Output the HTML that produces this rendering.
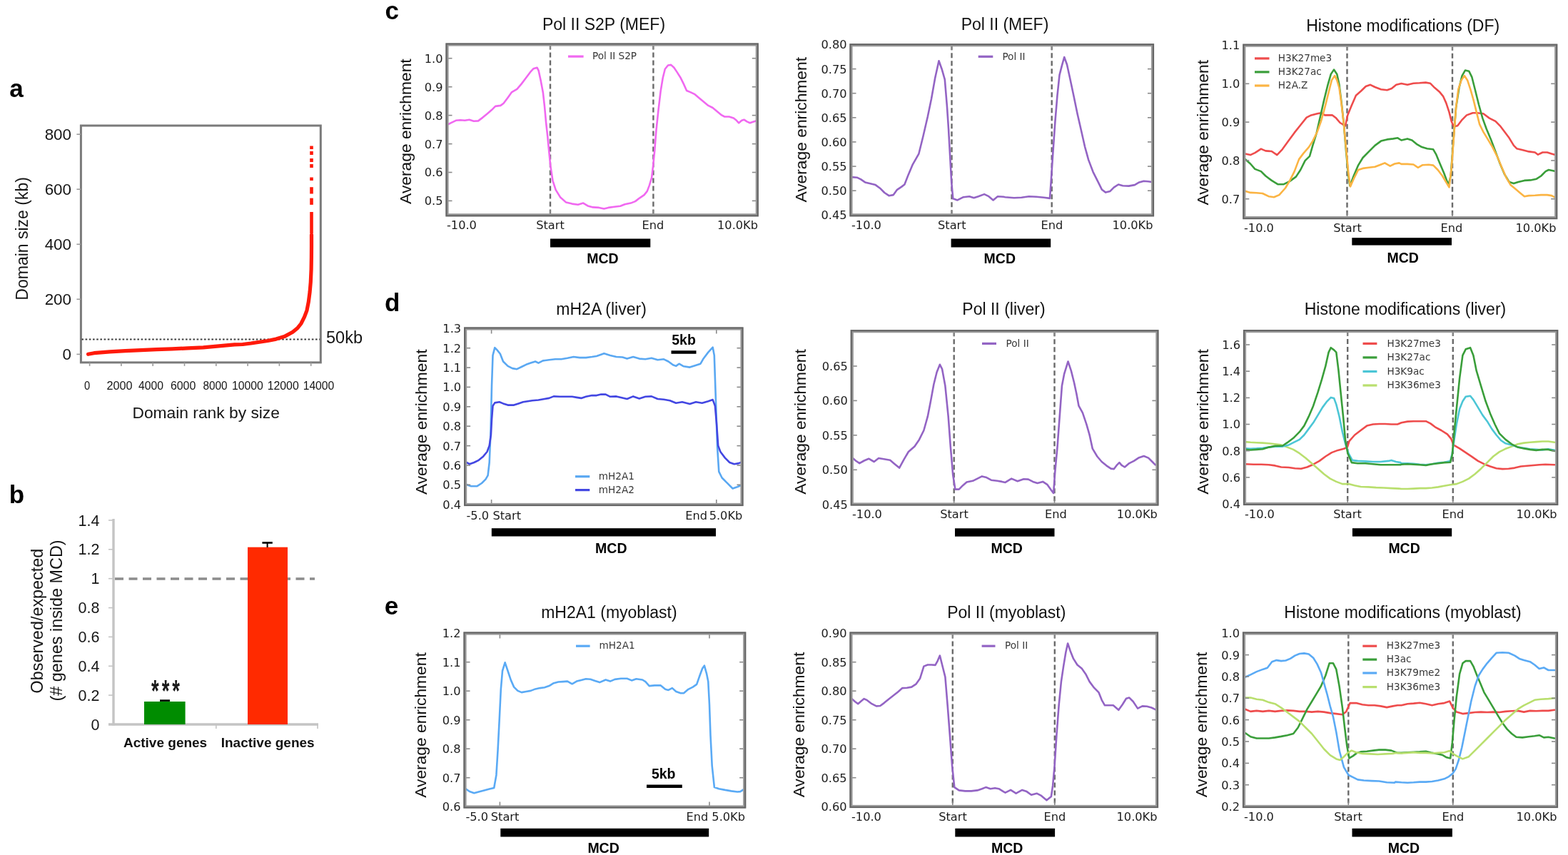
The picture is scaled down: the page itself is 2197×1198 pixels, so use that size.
<!DOCTYPE html>
<html><head><meta charset="utf-8"><title>Figure</title>
<style>html,body{margin:0;padding:0;background:#fff;overflow:hidden}svg{display:block}</style>
</head><body>
<svg width="2197" height="1198" viewBox="0 0 2197 1198">
<rect width="2197" height="1198" fill="#fff"/>
<rect x="113.4" y="176" width="335.9" height="331.9" fill="none" stroke="#7a7a7a" stroke-width="3"/>
<line x1="107.4" y1="496.4" x2="113.4" y2="496.4" stroke="#9a9a9a" stroke-width="1.6"/>
<text x="100" y="504.4" font-family="'Liberation Sans', Arial, Helvetica, sans-serif" font-size="22.4" text-anchor="end" font-weight="normal" fill="#151515" >0</text>
<line x1="107.4" y1="419.3" x2="113.4" y2="419.3" stroke="#9a9a9a" stroke-width="1.6"/>
<text x="100" y="427.3" font-family="'Liberation Sans', Arial, Helvetica, sans-serif" font-size="22.4" text-anchor="end" font-weight="normal" fill="#151515" >200</text>
<line x1="107.4" y1="342.3" x2="113.4" y2="342.3" stroke="#9a9a9a" stroke-width="1.6"/>
<text x="100" y="350.3" font-family="'Liberation Sans', Arial, Helvetica, sans-serif" font-size="22.4" text-anchor="end" font-weight="normal" fill="#151515" >400</text>
<line x1="107.4" y1="265.2" x2="113.4" y2="265.2" stroke="#9a9a9a" stroke-width="1.6"/>
<text x="100" y="273.2" font-family="'Liberation Sans', Arial, Helvetica, sans-serif" font-size="22.4" text-anchor="end" font-weight="normal" fill="#151515" >600</text>
<line x1="107.4" y1="188.2" x2="113.4" y2="188.2" stroke="#9a9a9a" stroke-width="1.6"/>
<text x="100" y="196.2" font-family="'Liberation Sans', Arial, Helvetica, sans-serif" font-size="22.4" text-anchor="end" font-weight="normal" fill="#151515" >800</text>
<line x1="125.6" y1="507.9" x2="125.6" y2="512.9" stroke="#9a9a9a" stroke-width="1.6"/>
<line x1="169.9" y1="507.9" x2="169.9" y2="512.9" stroke="#9a9a9a" stroke-width="1.6"/>
<line x1="214.2" y1="507.9" x2="214.2" y2="512.9" stroke="#9a9a9a" stroke-width="1.6"/>
<line x1="258.5" y1="507.9" x2="258.5" y2="512.9" stroke="#9a9a9a" stroke-width="1.6"/>
<line x1="302.8" y1="507.9" x2="302.8" y2="512.9" stroke="#9a9a9a" stroke-width="1.6"/>
<line x1="347.1" y1="507.9" x2="347.1" y2="512.9" stroke="#9a9a9a" stroke-width="1.6"/>
<line x1="391.4" y1="507.9" x2="391.4" y2="512.9" stroke="#9a9a9a" stroke-width="1.6"/>
<line x1="435.7" y1="507.9" x2="435.7" y2="512.9" stroke="#9a9a9a" stroke-width="1.6"/>
<text x="122" y="546.4" font-family="'Liberation Sans', Arial, Helvetica, sans-serif" font-size="17" text-anchor="middle" fill="#151515" textLength="8.2" lengthAdjust="spacingAndGlyphs">0</text>
<text x="167.5" y="546.4" font-family="'Liberation Sans', Arial, Helvetica, sans-serif" font-size="17" text-anchor="middle" fill="#151515" textLength="36" lengthAdjust="spacingAndGlyphs">2000</text>
<text x="211.5" y="546.4" font-family="'Liberation Sans', Arial, Helvetica, sans-serif" font-size="17" text-anchor="middle" fill="#151515" textLength="35" lengthAdjust="spacingAndGlyphs">4000</text>
<text x="256.6" y="546.4" font-family="'Liberation Sans', Arial, Helvetica, sans-serif" font-size="17" text-anchor="middle" fill="#151515" textLength="35.4" lengthAdjust="spacingAndGlyphs">6000</text>
<text x="301.6" y="546.4" font-family="'Liberation Sans', Arial, Helvetica, sans-serif" font-size="17" text-anchor="middle" fill="#151515" textLength="34.1" lengthAdjust="spacingAndGlyphs">8000</text>
<text x="346.9" y="546.4" font-family="'Liberation Sans', Arial, Helvetica, sans-serif" font-size="17" text-anchor="middle" fill="#151515" textLength="43.8" lengthAdjust="spacingAndGlyphs">10000</text>
<text x="396.7" y="546.4" font-family="'Liberation Sans', Arial, Helvetica, sans-serif" font-size="17" text-anchor="middle" fill="#151515" textLength="44.1" lengthAdjust="spacingAndGlyphs">12000</text>
<text x="446.5" y="546.4" font-family="'Liberation Sans', Arial, Helvetica, sans-serif" font-size="17" text-anchor="middle" fill="#151515" textLength="43.7" lengthAdjust="spacingAndGlyphs">14000</text>
<line x1="114.4" y1="475.5" x2="448.3" y2="475.5" stroke="#3c3c3c" stroke-width="2" stroke-dasharray="2.6,2.6"/>
<text x="457" y="481.3" font-family="'Liberation Sans', Arial, Helvetica, sans-serif" font-size="23.5" text-anchor="start" font-weight="normal" fill="#151515" >50kb</text>
<polyline points="123.5,496.3 131.8,494.7 153.7,492.8 175.5,491.7 197.4,490.6 219.2,489.7 241.1,488.9 262.9,487.9 284.8,486.8 306.6,484.9 328.5,482.9 340,482.5 351.7,481 363.4,479.2 375.1,477.5 386.8,475.1 398.4,471.6 410.1,465.2 417.1,459.4 421.8,453.5 426.5,444.2 430,434.8 432.3,423.1 434.1,409.1 435.3,395.1 436.1,377.5 436.4,360 436.5,345 436.5,329" fill="none" stroke="#ff1a0a" stroke-width="5.2" stroke-linejoin="round" stroke-linecap="round" stroke-linecap="butt"/>
<rect x="434.2" y="204.5" width="4.6" height="4.5" fill="#ff1a0a"/>
<rect x="434.2" y="212" width="4.6" height="5" fill="#ff1a0a"/>
<rect x="434.2" y="222" width="4.6" height="5" fill="#ff1a0a"/>
<rect x="434.2" y="230" width="4.6" height="5" fill="#ff1a0a"/>
<rect x="434.2" y="248.5" width="4.6" height="4.5" fill="#ff1a0a"/>
<rect x="434.2" y="262.2" width="4.6" height="9.300000000000011" fill="#ff1a0a"/>
<rect x="434.2" y="277.6" width="4.6" height="9.299999999999955" fill="#ff1a0a"/>
<rect x="434.2" y="297" width="4.6" height="30" fill="#ff1a0a"/>
<text x="0" y="0" font-family="'Liberation Sans', Arial, Helvetica, sans-serif" font-size="23" text-anchor="middle" fill="#151515" transform="translate(38.6,334.4) rotate(-90)">Domain size (kb)</text>
<text x="288.7" y="586.3" font-family="'Liberation Sans', Arial, Helvetica, sans-serif" font-size="22.8" text-anchor="middle" font-weight="normal" fill="#151515" >Domain rank by size</text>
<line x1="159" y1="727" x2="159" y2="1016.5" stroke="#c4c4c4" stroke-width="3.4"/>
<line x1="152" y1="1015" x2="446" y2="1015" stroke="#c4c4c4" stroke-width="3.4"/>
<line x1="152" y1="1015" x2="159" y2="1015" stroke="#c4c4c4" stroke-width="1.6"/>
<text x="139.5" y="1022.6" font-family="'Liberation Sans', Arial, Helvetica, sans-serif" font-size="21.5" text-anchor="end" font-weight="normal" fill="#151515" >0</text>
<line x1="152" y1="974.1" x2="159" y2="974.1" stroke="#c4c4c4" stroke-width="1.6"/>
<text x="139.5" y="981.7" font-family="'Liberation Sans', Arial, Helvetica, sans-serif" font-size="21.5" text-anchor="end" font-weight="normal" fill="#151515" >0.2</text>
<line x1="152" y1="933.3" x2="159" y2="933.3" stroke="#c4c4c4" stroke-width="1.6"/>
<text x="139.5" y="940.9" font-family="'Liberation Sans', Arial, Helvetica, sans-serif" font-size="21.5" text-anchor="end" font-weight="normal" fill="#151515" >0.4</text>
<line x1="152" y1="892.4" x2="159" y2="892.4" stroke="#c4c4c4" stroke-width="1.6"/>
<text x="139.5" y="900" font-family="'Liberation Sans', Arial, Helvetica, sans-serif" font-size="21.5" text-anchor="end" font-weight="normal" fill="#151515" >0.6</text>
<line x1="152" y1="851.6" x2="159" y2="851.6" stroke="#c4c4c4" stroke-width="1.6"/>
<text x="139.5" y="859.2" font-family="'Liberation Sans', Arial, Helvetica, sans-serif" font-size="21.5" text-anchor="end" font-weight="normal" fill="#151515" >0.8</text>
<line x1="152" y1="810.7" x2="159" y2="810.7" stroke="#c4c4c4" stroke-width="1.6"/>
<text x="139.5" y="818.3" font-family="'Liberation Sans', Arial, Helvetica, sans-serif" font-size="21.5" text-anchor="end" font-weight="normal" fill="#151515" >1</text>
<line x1="152" y1="769.8" x2="159" y2="769.8" stroke="#c4c4c4" stroke-width="1.6"/>
<text x="139.5" y="777.4" font-family="'Liberation Sans', Arial, Helvetica, sans-serif" font-size="21.5" text-anchor="end" font-weight="normal" fill="#151515" >1.2</text>
<line x1="152" y1="729" x2="159" y2="729" stroke="#c4c4c4" stroke-width="1.6"/>
<text x="139.5" y="736.6" font-family="'Liberation Sans', Arial, Helvetica, sans-serif" font-size="21.5" text-anchor="end" font-weight="normal" fill="#151515" >1.4</text>
<line x1="302.8" y1="1015" x2="302.8" y2="1021" stroke="#c4c4c4" stroke-width="1.6"/>
<line x1="445" y1="1015" x2="445" y2="1021" stroke="#c4c4c4" stroke-width="1.6"/>
<line x1="161" y1="811" x2="441" y2="811" stroke="#8c8c8c" stroke-width="3.6" stroke-dasharray="12,7.5"/>
<rect x="202" y="983" width="57.6" height="32" fill="#008c00"/>
<rect x="347" y="766.7" width="56" height="248.3" fill="#ff2a00"/>
<line x1="224" y1="981.6" x2="238" y2="981.6" stroke="#000" stroke-width="2.6"/>
<line x1="374.6" y1="760.5" x2="374.6" y2="767" stroke="#000" stroke-width="2"/>
<line x1="367.4" y1="760.5" x2="381.8" y2="760.5" stroke="#000" stroke-width="2.6"/>
<text x="0" y="0" font-family="'Liberation Sans', Arial, Helvetica, sans-serif" font-size="29" font-weight="bold" fill="#1a1a1a" letter-spacing="4.2" transform="translate(212.1,982) scale(0.944,1.44)">***</text>
<text x="231.6" y="1046.5" font-family="'Liberation Sans', Arial, Helvetica, sans-serif" font-size="19" text-anchor="middle" font-weight="bold" fill="#111" >Active genes</text>
<text x="375.2" y="1046.5" font-family="'Liberation Sans', Arial, Helvetica, sans-serif" font-size="19" text-anchor="middle" font-weight="bold" fill="#111" >Inactive genes</text>
<text x="0" y="0" font-family="'Liberation Sans', Arial, Helvetica, sans-serif" font-size="23.4" text-anchor="middle" fill="#151515" transform="translate(59.6,870.1) rotate(-90)">Observed/expected</text>
<text x="0" y="0" font-family="'Liberation Sans', Arial, Helvetica, sans-serif" font-size="23.4" text-anchor="middle" fill="#151515" transform="translate(86.8,869.5) rotate(-90)">(# genes inside MCD)</text>
<clipPath id="clip72"><rect x="626.5" y="62.5" width="434.3" height="238.8"/></clipPath>
<line x1="771" y1="62.5" x2="771" y2="301.3" stroke="#6a6a6a" stroke-width="2.4" stroke-dasharray="7,4"/>
<line x1="915.4" y1="62.5" x2="915.4" y2="301.3" stroke="#6a6a6a" stroke-width="2.4" stroke-dasharray="7,4"/>
<g clip-path="url(#clip72)">
<polyline points="628.3,174 632.5,171.9 638.8,168.8 645,168.3 651.3,168.8 657.6,167.7 663.8,169.8 670.1,169.4 676.4,164.6 682.6,159.4 688.9,154.1 694.1,148.9 701.4,147.9 705.6,144.8 711.8,136.4 717.1,129.1 724.4,124.9 730.6,117.6 736.9,109.3 743.1,100.9 747.3,96.3 752.5,94.7 754.6,98.8 757.8,113.4 760.9,130.1 763,148.9 765.1,171.9 767.2,190.7 769.2,211.5 771.3,232.4 774.5,253.3 778.6,265.8 784.9,276.2 793.2,283.6 801.6,285.6 809.9,286.7 817.2,284.6 823.5,288.4 830.8,290.4 839.2,290.9 846.3,292.5 852.5,290.9 860.9,289.8 869.2,288.8 875.5,286.3 883.8,284.6 890.1,282.1 896.4,277.3 902.6,273.1 906.8,267.9 909.9,259.6 913.1,249.1 915.1,232.4 917.2,211.5 919.3,184.4 922.4,155.2 925.6,128.1 928.7,109.3 931.8,96.7 936,91.5 940.2,90.9 944.4,94.7 948.5,100.9 953.8,109.3 957.9,117.6 962.1,127 967.3,129.1 973.6,132.2 979.8,137.4 986.1,142.7 992.4,147.9 998.6,151 1004.9,156.2 1011.2,161.4 1015.3,163.5 1021.6,163.5 1027.9,165.6 1032,168.8 1035.2,172.3 1039.3,168.8 1042.5,167.7 1046.6,170.4 1050.8,172.3 1055,170.8 1059.2,169.4" fill="none" stroke="#f068f0" stroke-width="2.6" stroke-linejoin="round" stroke-linecap="round" />
</g>
<line x1="626.5" y1="81.7" x2="633.5" y2="81.7" stroke="#8a8a8a" stroke-width="1.6"/>
<line x1="1053.8" y1="81.7" x2="1060.8" y2="81.7" stroke="#8a8a8a" stroke-width="1.6"/>
<text x="620.5" y="87.6" font-family="'DejaVu Sans', 'Bitstream Vera Sans', sans-serif" font-size="16.2" text-anchor="end" font-weight="normal" fill="#1c1c1c" >1.0</text>
<line x1="626.5" y1="121.7" x2="633.5" y2="121.7" stroke="#8a8a8a" stroke-width="1.6"/>
<line x1="1053.8" y1="121.7" x2="1060.8" y2="121.7" stroke="#8a8a8a" stroke-width="1.6"/>
<text x="620.5" y="127.6" font-family="'DejaVu Sans', 'Bitstream Vera Sans', sans-serif" font-size="16.2" text-anchor="end" font-weight="normal" fill="#1c1c1c" >0.9</text>
<line x1="626.5" y1="161.6" x2="633.5" y2="161.6" stroke="#8a8a8a" stroke-width="1.6"/>
<line x1="1053.8" y1="161.6" x2="1060.8" y2="161.6" stroke="#8a8a8a" stroke-width="1.6"/>
<text x="620.5" y="167.5" font-family="'DejaVu Sans', 'Bitstream Vera Sans', sans-serif" font-size="16.2" text-anchor="end" font-weight="normal" fill="#1c1c1c" >0.8</text>
<line x1="626.5" y1="201.6" x2="633.5" y2="201.6" stroke="#8a8a8a" stroke-width="1.6"/>
<line x1="1053.8" y1="201.6" x2="1060.8" y2="201.6" stroke="#8a8a8a" stroke-width="1.6"/>
<text x="620.5" y="207.5" font-family="'DejaVu Sans', 'Bitstream Vera Sans', sans-serif" font-size="16.2" text-anchor="end" font-weight="normal" fill="#1c1c1c" >0.7</text>
<line x1="626.5" y1="241.5" x2="633.5" y2="241.5" stroke="#8a8a8a" stroke-width="1.6"/>
<line x1="1053.8" y1="241.5" x2="1060.8" y2="241.5" stroke="#8a8a8a" stroke-width="1.6"/>
<text x="620.5" y="247.4" font-family="'DejaVu Sans', 'Bitstream Vera Sans', sans-serif" font-size="16.2" text-anchor="end" font-weight="normal" fill="#1c1c1c" >0.6</text>
<line x1="626.5" y1="281.4" x2="633.5" y2="281.4" stroke="#8a8a8a" stroke-width="1.6"/>
<line x1="1053.8" y1="281.4" x2="1060.8" y2="281.4" stroke="#8a8a8a" stroke-width="1.6"/>
<text x="620.5" y="287.3" font-family="'DejaVu Sans', 'Bitstream Vera Sans', sans-serif" font-size="16.2" text-anchor="end" font-weight="normal" fill="#1c1c1c" >0.5</text>
<line x1="771" y1="62.5" x2="771" y2="69.5" stroke="#8a8a8a" stroke-width="1.6"/>
<line x1="771" y1="294.3" x2="771" y2="301.3" stroke="#8a8a8a" stroke-width="1.6"/>
<line x1="915.4" y1="62.5" x2="915.4" y2="69.5" stroke="#8a8a8a" stroke-width="1.6"/>
<line x1="915.4" y1="294.3" x2="915.4" y2="301.3" stroke="#8a8a8a" stroke-width="1.6"/>
<rect x="626.5" y="62.5" width="434.3" height="238.8" fill="none" stroke="#9a9a9a" stroke-width="4.2"/>
<rect x="625.5" y="61.5" width="436.3" height="240.8" fill="none" stroke="#666" stroke-width="2.1"/>
<text x="626" y="321.2" font-family="'DejaVu Sans', 'Bitstream Vera Sans', sans-serif" font-size="16.2" text-anchor="start" font-weight="normal" fill="#1c1c1c" >-10.0</text>
<text x="771" y="321.2" font-family="'DejaVu Sans', 'Bitstream Vera Sans', sans-serif" font-size="16.2" text-anchor="middle" font-weight="normal" fill="#1c1c1c" >Start</text>
<text x="915" y="321.2" font-family="'DejaVu Sans', 'Bitstream Vera Sans', sans-serif" font-size="16.2" text-anchor="middle" font-weight="normal" fill="#1c1c1c" >End</text>
<text x="1062" y="321.2" font-family="'DejaVu Sans', 'Bitstream Vera Sans', sans-serif" font-size="16.2" text-anchor="end" font-weight="normal" fill="#1c1c1c" >10.0Kb</text>
<rect x="771" y="334.5" width="140.3" height="12" fill="#000"/>
<text x="844.5" y="368.6" font-family="'Liberation Sans', Arial, Helvetica, sans-serif" font-size="19.5" text-anchor="middle" font-weight="bold" fill="#000" >MCD</text>
<text x="846" y="42" font-family="'Liberation Sans', Arial, Helvetica, sans-serif" font-size="23" text-anchor="middle" font-weight="normal" fill="#111" >Pol II S2P (MEF)</text>
<text x="0" y="0" font-family="'Liberation Sans', Arial, Helvetica, sans-serif" font-size="22.8" text-anchor="middle" fill="#111" transform="translate(575.5,184.1) rotate(-90)">Average enrichment</text>
<line x1="796" y1="79.1" x2="817.6" y2="79.1" stroke="#f068f0" stroke-width="3.2"/>
<text x="830.1" y="83.3" font-family="'DejaVu Sans', 'Bitstream Vera Sans', sans-serif" font-size="13.6" text-anchor="start" font-weight="normal" fill="#383838" >Pol II S2P</text>
<clipPath id="clip112"><rect x="1192.5" y="63.2" width="422.5" height="238.1"/></clipPath>
<line x1="1333.5" y1="63.2" x2="1333.5" y2="301.3" stroke="#6a6a6a" stroke-width="2.4" stroke-dasharray="7,4"/>
<line x1="1473.7" y1="63.2" x2="1473.7" y2="301.3" stroke="#6a6a6a" stroke-width="2.4" stroke-dasharray="7,4"/>
<g clip-path="url(#clip112)">
<polyline points="1193.3,248.1 1200.7,248.7 1205.9,251.2 1212.1,255.4 1218.4,257 1226.7,259.1 1233,263.7 1239.3,270 1245.5,274.2 1251.8,273.1 1257,265.8 1263.3,261.6 1267.4,258.5 1272.7,244.9 1278.9,230.3 1287.3,215.7 1293.5,190.7 1299.8,163.5 1305,138.5 1310.2,109.3 1315.5,85.3 1319.6,96.7 1323.8,111.4 1326.9,148.9 1329,180.2 1331.1,217.8 1333.2,255.4 1335.3,278.3 1341.5,280.4 1349.9,276.2 1358.2,275.2 1364.5,277.3 1370.8,275.2 1379.1,272.1 1385.4,275.2 1391.6,280.4 1397.9,275.2 1406.2,275.8 1408.3,276.2 1420.9,277.3 1431.3,276.7 1441.7,275.2 1452.2,275.8 1462.6,276.7 1471,277.9 1472.6,255.4 1475.1,217.8 1478.3,171.9 1481.4,134.3 1484.5,105.1 1487.7,92.6 1491.2,80 1495,90.5 1499.1,109.3 1504.4,134.3 1509.6,159.4 1514.8,182.3 1520,205.3 1525.2,224.1 1531.5,240.8 1537.8,253.3 1544,265.8 1549.2,269.6 1555.5,267.9 1560.7,262.7 1567,258.5 1573.2,260.2 1581.6,260.6 1589.9,259.1 1596.2,255.4 1602.5,253.7 1608.7,254.3 1613.9,255" fill="none" stroke="#9364c4" stroke-width="2.6" stroke-linejoin="round" stroke-linecap="round" />
</g>
<line x1="1192.5" y1="62.5" x2="1199.5" y2="62.5" stroke="#8a8a8a" stroke-width="1.6"/>
<line x1="1608" y1="62.5" x2="1615" y2="62.5" stroke="#8a8a8a" stroke-width="1.6"/>
<text x="1186.5" y="68.4" font-family="'DejaVu Sans', 'Bitstream Vera Sans', sans-serif" font-size="16.2" text-anchor="end" font-weight="normal" fill="#1c1c1c" >0.80</text>
<line x1="1192.5" y1="96.6" x2="1199.5" y2="96.6" stroke="#8a8a8a" stroke-width="1.6"/>
<line x1="1608" y1="96.6" x2="1615" y2="96.6" stroke="#8a8a8a" stroke-width="1.6"/>
<text x="1186.5" y="102.5" font-family="'DejaVu Sans', 'Bitstream Vera Sans', sans-serif" font-size="16.2" text-anchor="end" font-weight="normal" fill="#1c1c1c" >0.75</text>
<line x1="1192.5" y1="130.7" x2="1199.5" y2="130.7" stroke="#8a8a8a" stroke-width="1.6"/>
<line x1="1608" y1="130.7" x2="1615" y2="130.7" stroke="#8a8a8a" stroke-width="1.6"/>
<text x="1186.5" y="136.6" font-family="'DejaVu Sans', 'Bitstream Vera Sans', sans-serif" font-size="16.2" text-anchor="end" font-weight="normal" fill="#1c1c1c" >0.70</text>
<line x1="1192.5" y1="164.8" x2="1199.5" y2="164.8" stroke="#8a8a8a" stroke-width="1.6"/>
<line x1="1608" y1="164.8" x2="1615" y2="164.8" stroke="#8a8a8a" stroke-width="1.6"/>
<text x="1186.5" y="170.7" font-family="'DejaVu Sans', 'Bitstream Vera Sans', sans-serif" font-size="16.2" text-anchor="end" font-weight="normal" fill="#1c1c1c" >0.65</text>
<line x1="1192.5" y1="198.9" x2="1199.5" y2="198.9" stroke="#8a8a8a" stroke-width="1.6"/>
<line x1="1608" y1="198.9" x2="1615" y2="198.9" stroke="#8a8a8a" stroke-width="1.6"/>
<text x="1186.5" y="204.8" font-family="'DejaVu Sans', 'Bitstream Vera Sans', sans-serif" font-size="16.2" text-anchor="end" font-weight="normal" fill="#1c1c1c" >0.60</text>
<line x1="1192.5" y1="233.1" x2="1199.5" y2="233.1" stroke="#8a8a8a" stroke-width="1.6"/>
<line x1="1608" y1="233.1" x2="1615" y2="233.1" stroke="#8a8a8a" stroke-width="1.6"/>
<text x="1186.5" y="239" font-family="'DejaVu Sans', 'Bitstream Vera Sans', sans-serif" font-size="16.2" text-anchor="end" font-weight="normal" fill="#1c1c1c" >0.55</text>
<line x1="1192.5" y1="267.2" x2="1199.5" y2="267.2" stroke="#8a8a8a" stroke-width="1.6"/>
<line x1="1608" y1="267.2" x2="1615" y2="267.2" stroke="#8a8a8a" stroke-width="1.6"/>
<text x="1186.5" y="273.1" font-family="'DejaVu Sans', 'Bitstream Vera Sans', sans-serif" font-size="16.2" text-anchor="end" font-weight="normal" fill="#1c1c1c" >0.50</text>
<line x1="1192.5" y1="301.3" x2="1199.5" y2="301.3" stroke="#8a8a8a" stroke-width="1.6"/>
<line x1="1608" y1="301.3" x2="1615" y2="301.3" stroke="#8a8a8a" stroke-width="1.6"/>
<text x="1186.5" y="307.2" font-family="'DejaVu Sans', 'Bitstream Vera Sans', sans-serif" font-size="16.2" text-anchor="end" font-weight="normal" fill="#1c1c1c" >0.45</text>
<line x1="1333.5" y1="63.2" x2="1333.5" y2="70.2" stroke="#8a8a8a" stroke-width="1.6"/>
<line x1="1333.5" y1="294.3" x2="1333.5" y2="301.3" stroke="#8a8a8a" stroke-width="1.6"/>
<line x1="1473.7" y1="63.2" x2="1473.7" y2="70.2" stroke="#8a8a8a" stroke-width="1.6"/>
<line x1="1473.7" y1="294.3" x2="1473.7" y2="301.3" stroke="#8a8a8a" stroke-width="1.6"/>
<rect x="1192.5" y="63.2" width="422.5" height="238.1" fill="none" stroke="#9a9a9a" stroke-width="4.2"/>
<rect x="1191.5" y="62.2" width="424.5" height="240.1" fill="none" stroke="#666" stroke-width="2.1"/>
<text x="1193" y="321.2" font-family="'DejaVu Sans', 'Bitstream Vera Sans', sans-serif" font-size="16.2" text-anchor="start" font-weight="normal" fill="#1c1c1c" >-10.0</text>
<text x="1333.8" y="321.2" font-family="'DejaVu Sans', 'Bitstream Vera Sans', sans-serif" font-size="16.2" text-anchor="middle" font-weight="normal" fill="#1c1c1c" >Start</text>
<text x="1474" y="321.2" font-family="'DejaVu Sans', 'Bitstream Vera Sans', sans-serif" font-size="16.2" text-anchor="middle" font-weight="normal" fill="#1c1c1c" >End</text>
<text x="1615.5" y="321.2" font-family="'DejaVu Sans', 'Bitstream Vera Sans', sans-serif" font-size="16.2" text-anchor="end" font-weight="normal" fill="#1c1c1c" >10.0Kb</text>
<rect x="1332.6" y="334.5" width="139.6" height="12" fill="#000"/>
<text x="1400.8" y="368.6" font-family="'Liberation Sans', Arial, Helvetica, sans-serif" font-size="19.5" text-anchor="middle" font-weight="bold" fill="#000" >MCD</text>
<text x="1408" y="42" font-family="'Liberation Sans', Arial, Helvetica, sans-serif" font-size="23" text-anchor="middle" font-weight="normal" fill="#111" >Pol II (MEF)</text>
<text x="0" y="0" font-family="'Liberation Sans', Arial, Helvetica, sans-serif" font-size="22.8" text-anchor="middle" fill="#111" transform="translate(1129.5,181.8) rotate(-90)">Average enrichment</text>
<line x1="1370.7" y1="79.3" x2="1391.3" y2="79.3" stroke="#9364c4" stroke-width="3.2"/>
<text x="1404.4" y="83.5" font-family="'DejaVu Sans', 'Bitstream Vera Sans', sans-serif" font-size="13.6" text-anchor="start" font-weight="normal" fill="#383838" >Pol II</text>
<clipPath id="clip158"><rect x="1743.3" y="63.7" width="436.9" height="241.4"/></clipPath>
<line x1="1887.5" y1="63.7" x2="1887.5" y2="305.1" stroke="#6a6a6a" stroke-width="2.4" stroke-dasharray="7,4"/>
<line x1="2035" y1="63.7" x2="2035" y2="305.1" stroke="#6a6a6a" stroke-width="2.4" stroke-dasharray="7,4"/>
<g clip-path="url(#clip158)">
<polyline points="1744.6,215.6 1752,217.1 1758.4,214.1 1766.9,208.6 1773.3,211.4 1781.8,212 1789.3,217.1 1796.7,209.3 1805.2,197.6 1813.7,185.9 1822.2,175.2 1830.7,164.6 1837.1,161.4 1845.6,159.3 1851,158.2 1856.3,161.4 1866.9,161.4 1872.2,165.6 1877.6,172 1885,176.3 1888.2,161.4 1893.5,148.6 1899.9,133.7 1907.3,127.3 1913.7,121 1920.1,118.8 1926.5,122 1935,125.2 1943.5,126.3 1949.9,124.1 1956.3,118.8 1963.5,117.1 1972,118.8 1980.5,116.7 1989,116.3 1997.6,115.6 2003.9,116.7 2010.3,123.1 2016.7,128.4 2022,134.8 2026.3,144.4 2030.5,157.1 2033.7,169.9 2036.9,177.3 2042.2,176.3 2048.6,167.8 2055,161.4 2063.5,158.2 2069.9,158.2 2078.4,159.3 2086.9,165.6 2095.4,169.9 2101.8,176.3 2108.2,184.8 2114.6,193.3 2121,203.9 2125.2,208.2 2133.7,210.3 2142.2,212.4 2150.7,213.5 2155,216.7 2161.4,213.5 2167.8,213.5 2174.1,215.6 2178.4,216.7" fill="none" stroke="#ee4c4c" stroke-width="2.6" stroke-linejoin="round" stroke-linecap="round" />
<polyline points="1744.6,223.1 1752,229.5 1758.4,236.9 1766.9,240.1 1773.3,246.5 1781.8,252.9 1790.3,258.2 1798.8,258.2 1807.3,253.9 1815.9,247.6 1822.2,238 1828.6,225.2 1835,218.8 1839.3,203.9 1844.6,186.9 1849.9,163.5 1855.2,140.1 1860.5,118.8 1864.8,103.9 1869,97.6 1873.3,103.9 1876.5,118.8 1879.7,144.4 1882.9,174.1 1886.1,212.4 1889.3,246.5 1891.4,260.3 1896.7,246.5 1903.1,231.6 1909.5,221 1918,212.4 1926.5,203.9 1935,197.6 1943.5,195.4 1952,194.4 1958.4,193.3 1963.5,196.5 1972,194.4 1978.4,196.5 1984.8,201.8 1992.2,206.1 1999.7,208.2 2008.2,209.3 2012.4,216.7 2016.7,227.3 2023.1,242.2 2029.5,259.3 2032.7,246.5 2035.9,203.9 2040.1,150.7 2044.4,123.1 2048.6,106.1 2052.9,98.6 2058.2,99.7 2062.4,108.2 2066.7,125.2 2072,146.5 2077.3,165.6 2082.7,180.5 2089,195.4 2095.4,212.4 2101.8,229.5 2108.2,244.4 2114.6,255 2121,257.1 2127.3,255 2135.9,252.9 2144.4,252.4 2152.9,250.7 2159.3,246.5 2165.6,240.1 2169.9,238 2178.4,239.7" fill="none" stroke="#3a9e3a" stroke-width="2.6" stroke-linejoin="round" stroke-linecap="round" />
<polyline points="1744.6,267.8 1752,269.9 1760.5,270.3 1769,271 1777.6,275.2 1785,276.3 1792.4,273.1 1801,263.5 1807.3,252.9 1813.7,240.1 1820.1,223.1 1826.5,214.6 1833.9,206.1 1839.3,197.6 1845.6,184.8 1851,169.9 1856.3,150.7 1861.6,129.5 1865.9,112.4 1870.1,106.1 1873.3,112.4 1876.5,123.1 1879.7,146.5 1882.9,174.1 1886.1,208.2 1889.3,242.2 1892,261.4 1896.7,250.7 1903.1,238 1909.5,235.9 1918,234.8 1926.5,233.7 1935,230.5 1940.3,228.4 1947.8,232.7 1954.1,229.5 1960.5,228.4 1963.5,229.9 1972,229.9 1980.5,230.5 1986.9,234.8 1993.3,231.2 2001.8,230.7 2008.2,231.6 2014.6,238 2021,246.5 2027.3,257.1 2030.5,262.4 2033.7,235.9 2036.9,193.3 2040.1,150.7 2043.3,125.2 2047.6,112.4 2051.8,106.1 2056.1,112.4 2060.3,125.2 2064.6,140.1 2068.8,157.1 2073.1,174.1 2078.4,184.8 2084.8,195.4 2091.2,206.1 2097.6,218.8 2103.9,233.7 2110.3,248.6 2116.7,259.3 2123.1,264.6 2129.5,269.9 2135.9,275.2 2142.2,274.1 2150.7,273.7 2159.3,273.1 2167.8,273.1 2174.1,274.1 2178.4,276.3" fill="none" stroke="#fbb443" stroke-width="2.6" stroke-linejoin="round" stroke-linecap="round" />
</g>
<line x1="1743.3" y1="63.5" x2="1750.3" y2="63.5" stroke="#8a8a8a" stroke-width="1.6"/>
<line x1="2173.2" y1="63.5" x2="2180.2" y2="63.5" stroke="#8a8a8a" stroke-width="1.6"/>
<text x="1737.3" y="69.4" font-family="'DejaVu Sans', 'Bitstream Vera Sans', sans-serif" font-size="16.2" text-anchor="end" font-weight="normal" fill="#1c1c1c" >1.1</text>
<line x1="1743.3" y1="117.3" x2="1750.3" y2="117.3" stroke="#8a8a8a" stroke-width="1.6"/>
<line x1="2173.2" y1="117.3" x2="2180.2" y2="117.3" stroke="#8a8a8a" stroke-width="1.6"/>
<text x="1737.3" y="123.2" font-family="'DejaVu Sans', 'Bitstream Vera Sans', sans-serif" font-size="16.2" text-anchor="end" font-weight="normal" fill="#1c1c1c" >1.0</text>
<line x1="1743.3" y1="171.1" x2="1750.3" y2="171.1" stroke="#8a8a8a" stroke-width="1.6"/>
<line x1="2173.2" y1="171.1" x2="2180.2" y2="171.1" stroke="#8a8a8a" stroke-width="1.6"/>
<text x="1737.3" y="177" font-family="'DejaVu Sans', 'Bitstream Vera Sans', sans-serif" font-size="16.2" text-anchor="end" font-weight="normal" fill="#1c1c1c" >0.9</text>
<line x1="1743.3" y1="224.9" x2="1750.3" y2="224.9" stroke="#8a8a8a" stroke-width="1.6"/>
<line x1="2173.2" y1="224.9" x2="2180.2" y2="224.9" stroke="#8a8a8a" stroke-width="1.6"/>
<text x="1737.3" y="230.8" font-family="'DejaVu Sans', 'Bitstream Vera Sans', sans-serif" font-size="16.2" text-anchor="end" font-weight="normal" fill="#1c1c1c" >0.8</text>
<line x1="1743.3" y1="278.7" x2="1750.3" y2="278.7" stroke="#8a8a8a" stroke-width="1.6"/>
<line x1="2173.2" y1="278.7" x2="2180.2" y2="278.7" stroke="#8a8a8a" stroke-width="1.6"/>
<text x="1737.3" y="284.6" font-family="'DejaVu Sans', 'Bitstream Vera Sans', sans-serif" font-size="16.2" text-anchor="end" font-weight="normal" fill="#1c1c1c" >0.7</text>
<line x1="1887.5" y1="63.7" x2="1887.5" y2="70.7" stroke="#8a8a8a" stroke-width="1.6"/>
<line x1="1887.5" y1="298.1" x2="1887.5" y2="305.1" stroke="#8a8a8a" stroke-width="1.6"/>
<line x1="2035" y1="63.7" x2="2035" y2="70.7" stroke="#8a8a8a" stroke-width="1.6"/>
<line x1="2035" y1="298.1" x2="2035" y2="305.1" stroke="#8a8a8a" stroke-width="1.6"/>
<rect x="1743.3" y="63.7" width="436.9" height="241.4" fill="none" stroke="#9a9a9a" stroke-width="4.2"/>
<rect x="1742.3" y="62.7" width="438.9" height="243.4" fill="none" stroke="#666" stroke-width="2.1"/>
<text x="1743" y="325" font-family="'DejaVu Sans', 'Bitstream Vera Sans', sans-serif" font-size="16.2" text-anchor="start" font-weight="normal" fill="#1c1c1c" >-10.0</text>
<text x="1888" y="325" font-family="'DejaVu Sans', 'Bitstream Vera Sans', sans-serif" font-size="16.2" text-anchor="middle" font-weight="normal" fill="#1c1c1c" >Start</text>
<text x="2034" y="325" font-family="'DejaVu Sans', 'Bitstream Vera Sans', sans-serif" font-size="16.2" text-anchor="middle" font-weight="normal" fill="#1c1c1c" >End</text>
<text x="2180.5" y="325" font-family="'DejaVu Sans', 'Bitstream Vera Sans', sans-serif" font-size="16.2" text-anchor="end" font-weight="normal" fill="#1c1c1c" >10.0Kb</text>
<rect x="1894.3" y="333.2" width="139.7" height="10.4" fill="#000"/>
<text x="1965.7" y="368" font-family="'Liberation Sans', Arial, Helvetica, sans-serif" font-size="19.5" text-anchor="middle" font-weight="bold" fill="#000" >MCD</text>
<text x="1965.7" y="44" font-family="'Liberation Sans', Arial, Helvetica, sans-serif" font-size="23" text-anchor="middle" font-weight="normal" fill="#111" >Histone modifications (DF)</text>
<text x="0" y="0" font-family="'Liberation Sans', Arial, Helvetica, sans-serif" font-size="22.8" text-anchor="middle" fill="#111" transform="translate(1693,185.8) rotate(-90)">Average enrichment</text>
<line x1="1758" y1="81.9" x2="1778.5" y2="81.9" stroke="#ee4c4c" stroke-width="3.2"/>
<text x="1790.8" y="86.1" font-family="'DejaVu Sans', 'Bitstream Vera Sans', sans-serif" font-size="13.6" text-anchor="start" font-weight="normal" fill="#383838" >H3K27me3</text>
<line x1="1758" y1="100.9" x2="1778.5" y2="100.9" stroke="#3a9e3a" stroke-width="3.2"/>
<text x="1790.8" y="105.1" font-family="'DejaVu Sans', 'Bitstream Vera Sans', sans-serif" font-size="13.6" text-anchor="start" font-weight="normal" fill="#383838" >H3K27ac</text>
<line x1="1758" y1="120" x2="1778.5" y2="120" stroke="#fbb443" stroke-width="3.2"/>
<text x="1790.8" y="124.2" font-family="'DejaVu Sans', 'Bitstream Vera Sans', sans-serif" font-size="13.6" text-anchor="start" font-weight="normal" fill="#383838" >H2A.Z</text>
<clipPath id="clip201"><rect x="652.1" y="460.5" width="387.4" height="246.5"/></clipPath>
<g clip-path="url(#clip201)">
<polyline points="653.6,679.1 660,681.2 668.6,681.2 675,677 680.4,671.6 683.6,666.2 685.7,648 687.5,605.1 689,540.8 690.5,497.9 693.3,487.2 696.5,490.4 700.8,495.7 705,506.5 711.5,512.9 717.9,516.1 724.3,517.2 730.8,514 737.2,510.8 743.6,508.6 750.1,506.5 754.4,508.6 760.8,505.4 769.4,504.3 778,503.3 786.5,503.3 795.1,501.8 803.7,500 812.3,501.1 820.9,501.1 829.4,500 835.9,499 842.3,496.8 846.4,495.3 855,497.9 863.6,500 872.2,500.5 878.6,502.6 887.2,500 895.8,502.6 904.3,503.3 912.9,501.8 921.5,504.3 930.1,503.3 936.5,506.5 942.9,511.2 947.2,512.9 951.5,509.7 957.9,513.3 966.5,514.6 973,512.5 981.5,509.7 985.8,502.2 992.3,493.6 998.7,486.7 1000.8,497.9 1003,562.2 1005.1,626.6 1007.3,660.9 1011.6,669.5 1018,675.9 1026.6,684.5 1033,682.3 1040.5,679.1" fill="none" stroke="#5aa8f2" stroke-width="2.6" stroke-linejoin="round" stroke-linecap="round" />
<polyline points="653.6,648 657.9,650.2 664.3,648 670.7,644.8 677.2,639.4 682.5,633 685.7,624.4 687.9,609.4 689,588 690.5,568.7 693.3,564.4 699.7,563.3 705,565.4 711.5,567.6 720.1,567.6 726.5,565.4 732.9,563.3 739.4,562.2 745.8,561.2 754.4,560.5 762.9,559 769.4,557.9 775.8,555.4 784.4,555.8 793,555.8 801.6,555.8 808,556.9 814.4,557.9 820.9,555.8 829.4,554.1 835.9,554.1 842.3,552.6 848.6,552.6 855,555.8 863.6,555.4 872.2,557.5 878.6,559 887.2,555.4 895.8,558.4 904.3,555.8 912.9,555.4 921.5,559 930.1,559.7 938.6,561.2 947.2,564.8 955.8,563.3 966.5,566.1 975.1,563.3 983.7,564.8 992.3,562.2 998.7,560.1 1001.9,568.7 1004.1,594.4 1006.2,624.4 1009.4,633 1015.9,641.6 1022.3,648 1028.7,650.2 1035.2,649.1 1040.5,646.9" fill="none" stroke="#4347e2" stroke-width="2.6" stroke-linejoin="round" stroke-linecap="round" />
</g>
<line x1="652.1" y1="460.3" x2="659.1" y2="460.3" stroke="#8a8a8a" stroke-width="1.6"/>
<line x1="1032.5" y1="460.3" x2="1039.5" y2="460.3" stroke="#8a8a8a" stroke-width="1.6"/>
<text x="646.1" y="466.2" font-family="'DejaVu Sans', 'Bitstream Vera Sans', sans-serif" font-size="16.2" text-anchor="end" font-weight="normal" fill="#1c1c1c" >1.3</text>
<line x1="652.1" y1="487.7" x2="659.1" y2="487.7" stroke="#8a8a8a" stroke-width="1.6"/>
<line x1="1032.5" y1="487.7" x2="1039.5" y2="487.7" stroke="#8a8a8a" stroke-width="1.6"/>
<text x="646.1" y="493.6" font-family="'DejaVu Sans', 'Bitstream Vera Sans', sans-serif" font-size="16.2" text-anchor="end" font-weight="normal" fill="#1c1c1c" >1.2</text>
<line x1="652.1" y1="515.1" x2="659.1" y2="515.1" stroke="#8a8a8a" stroke-width="1.6"/>
<line x1="1032.5" y1="515.1" x2="1039.5" y2="515.1" stroke="#8a8a8a" stroke-width="1.6"/>
<text x="646.1" y="521" font-family="'DejaVu Sans', 'Bitstream Vera Sans', sans-serif" font-size="16.2" text-anchor="end" font-weight="normal" fill="#1c1c1c" >1.1</text>
<line x1="652.1" y1="542.4" x2="659.1" y2="542.4" stroke="#8a8a8a" stroke-width="1.6"/>
<line x1="1032.5" y1="542.4" x2="1039.5" y2="542.4" stroke="#8a8a8a" stroke-width="1.6"/>
<text x="646.1" y="548.3" font-family="'DejaVu Sans', 'Bitstream Vera Sans', sans-serif" font-size="16.2" text-anchor="end" font-weight="normal" fill="#1c1c1c" >1.0</text>
<line x1="652.1" y1="569.8" x2="659.1" y2="569.8" stroke="#8a8a8a" stroke-width="1.6"/>
<line x1="1032.5" y1="569.8" x2="1039.5" y2="569.8" stroke="#8a8a8a" stroke-width="1.6"/>
<text x="646.1" y="575.7" font-family="'DejaVu Sans', 'Bitstream Vera Sans', sans-serif" font-size="16.2" text-anchor="end" font-weight="normal" fill="#1c1c1c" >0.9</text>
<line x1="652.1" y1="597.2" x2="659.1" y2="597.2" stroke="#8a8a8a" stroke-width="1.6"/>
<line x1="1032.5" y1="597.2" x2="1039.5" y2="597.2" stroke="#8a8a8a" stroke-width="1.6"/>
<text x="646.1" y="603.1" font-family="'DejaVu Sans', 'Bitstream Vera Sans', sans-serif" font-size="16.2" text-anchor="end" font-weight="normal" fill="#1c1c1c" >0.8</text>
<line x1="652.1" y1="624.6" x2="659.1" y2="624.6" stroke="#8a8a8a" stroke-width="1.6"/>
<line x1="1032.5" y1="624.6" x2="1039.5" y2="624.6" stroke="#8a8a8a" stroke-width="1.6"/>
<text x="646.1" y="630.5" font-family="'DejaVu Sans', 'Bitstream Vera Sans', sans-serif" font-size="16.2" text-anchor="end" font-weight="normal" fill="#1c1c1c" >0.7</text>
<line x1="652.1" y1="652" x2="659.1" y2="652" stroke="#8a8a8a" stroke-width="1.6"/>
<line x1="1032.5" y1="652" x2="1039.5" y2="652" stroke="#8a8a8a" stroke-width="1.6"/>
<text x="646.1" y="657.9" font-family="'DejaVu Sans', 'Bitstream Vera Sans', sans-serif" font-size="16.2" text-anchor="end" font-weight="normal" fill="#1c1c1c" >0.6</text>
<line x1="652.1" y1="679.3" x2="659.1" y2="679.3" stroke="#8a8a8a" stroke-width="1.6"/>
<line x1="1032.5" y1="679.3" x2="1039.5" y2="679.3" stroke="#8a8a8a" stroke-width="1.6"/>
<text x="646.1" y="685.2" font-family="'DejaVu Sans', 'Bitstream Vera Sans', sans-serif" font-size="16.2" text-anchor="end" font-weight="normal" fill="#1c1c1c" >0.5</text>
<line x1="652.1" y1="706.7" x2="659.1" y2="706.7" stroke="#8a8a8a" stroke-width="1.6"/>
<line x1="1032.5" y1="706.7" x2="1039.5" y2="706.7" stroke="#8a8a8a" stroke-width="1.6"/>
<text x="646.1" y="712.6" font-family="'DejaVu Sans', 'Bitstream Vera Sans', sans-serif" font-size="16.2" text-anchor="end" font-weight="normal" fill="#1c1c1c" >0.4</text>
<line x1="688.6" y1="460.5" x2="688.6" y2="467.5" stroke="#8a8a8a" stroke-width="1.6"/>
<line x1="688.6" y1="700" x2="688.6" y2="707" stroke="#8a8a8a" stroke-width="1.6"/>
<line x1="1003.8" y1="460.5" x2="1003.8" y2="467.5" stroke="#8a8a8a" stroke-width="1.6"/>
<line x1="1003.8" y1="700" x2="1003.8" y2="707" stroke="#8a8a8a" stroke-width="1.6"/>
<rect x="652.1" y="460.5" width="387.4" height="246.5" fill="none" stroke="#9a9a9a" stroke-width="4.2"/>
<rect x="651.1" y="459.5" width="389.4" height="248.5" fill="none" stroke="#666" stroke-width="2.1"/>
<text x="653.5" y="727.8" font-family="'DejaVu Sans', 'Bitstream Vera Sans', sans-serif" font-size="16.2" text-anchor="start" font-weight="normal" fill="#1c1c1c" >-5.0</text>
<text x="690.5" y="727.8" font-family="'DejaVu Sans', 'Bitstream Vera Sans', sans-serif" font-size="16.2" text-anchor="start" font-weight="normal" fill="#1c1c1c" >Start</text>
<text x="991" y="727.8" font-family="'DejaVu Sans', 'Bitstream Vera Sans', sans-serif" font-size="16.2" text-anchor="end" font-weight="normal" fill="#1c1c1c" >End</text>
<text x="1040.3" y="727.8" font-family="'DejaVu Sans', 'Bitstream Vera Sans', sans-serif" font-size="16.2" text-anchor="end" font-weight="normal" fill="#1c1c1c" >5.0Kb</text>
<rect x="688.8" y="740.2" width="314.2" height="11.3" fill="#000"/>
<text x="856.3" y="775" font-family="'Liberation Sans', Arial, Helvetica, sans-serif" font-size="19.5" text-anchor="middle" font-weight="bold" fill="#000" >MCD</text>
<text x="842.6" y="441.2" font-family="'Liberation Sans', Arial, Helvetica, sans-serif" font-size="23" text-anchor="middle" font-weight="normal" fill="#111" >mH2A (liver)</text>
<text x="0" y="0" font-family="'Liberation Sans', Arial, Helvetica, sans-serif" font-size="22.8" text-anchor="middle" fill="#111" transform="translate(598,591.3) rotate(-90)">Average enrichment</text>
<line x1="806" y1="667.7" x2="826.3" y2="667.7" stroke="#5aa8f2" stroke-width="3.2"/>
<text x="838.8" y="671.9" font-family="'DejaVu Sans', 'Bitstream Vera Sans', sans-serif" font-size="13.6" text-anchor="start" font-weight="normal" fill="#383838" >mH2A1</text>
<line x1="806" y1="686.6" x2="826.3" y2="686.6" stroke="#4347e2" stroke-width="3.2"/>
<text x="838.8" y="690.8" font-family="'DejaVu Sans', 'Bitstream Vera Sans', sans-serif" font-size="13.6" text-anchor="start" font-weight="normal" fill="#383838" >mH2A2</text>
<line x1="940.5" y1="493.6" x2="975.5" y2="493.6" stroke="#000" stroke-width="4.5"/>
<text x="958" y="483" font-family="'Liberation Sans', Arial, Helvetica, sans-serif" font-size="19.5" text-anchor="middle" font-weight="bold" fill="#000" >5kb</text>
<clipPath id="clip256"><rect x="1193.8" y="464.2" width="427.6" height="242.3"/></clipPath>
<line x1="1336.7" y1="464.2" x2="1336.7" y2="706.5" stroke="#6a6a6a" stroke-width="2.4" stroke-dasharray="7,4"/>
<line x1="1477.5" y1="464.2" x2="1477.5" y2="706.5" stroke="#6a6a6a" stroke-width="2.4" stroke-dasharray="7,4"/>
<g clip-path="url(#clip256)">
<polyline points="1194.7,641.6 1198.9,645.5 1204.3,649.1 1210.7,645.5 1217.2,642.7 1224.7,647 1231.1,642 1238.6,643.3 1247.2,644.8 1253.6,650.2 1260.1,655.6 1266.5,643.8 1272.9,633 1281.5,625.5 1288,615.9 1294.4,603 1299.8,583.7 1304,562.3 1308.3,538.7 1312.6,521.5 1316.9,510.8 1320.1,517.2 1324.4,540.8 1328.7,583.7 1331.9,626.6 1335.2,665.2 1338.4,685.6 1343.7,685.6 1349.1,680.2 1354.5,675.5 1363,673.8 1369.5,670.6 1375.9,667.4 1382.3,669.1 1388.8,672.7 1397.4,673.8 1403.8,674.9 1408.6,675.9 1417.2,670.6 1425.7,674.2 1434.3,671.2 1440.8,671.6 1447.2,674.9 1453.6,677 1461.1,674.9 1467.6,679.2 1472.9,686.7 1476.1,691 1478.3,660.9 1481.5,626.6 1484.7,583.7 1487.9,540.8 1491.2,523.6 1496.5,506.5 1500.8,519.4 1505.1,536.5 1508.3,551.5 1511.5,568.7 1516.9,578.3 1522.3,594.4 1526.6,609.4 1530.8,628.7 1537.3,639.5 1543.7,647 1550.2,652.3 1556.6,656.6 1560.9,657.1 1565.2,651.3 1568.4,648.1 1571.6,651.9 1575.9,654.5 1582.3,649.1 1588.8,645.9 1595.2,641.6 1602.7,639 1609.1,641.6 1614.5,647 1618.8,651.3" fill="none" stroke="#9364c4" stroke-width="2.6" stroke-linejoin="round" stroke-linecap="round" />
</g>
<line x1="1193.8" y1="513" x2="1200.8" y2="513" stroke="#8a8a8a" stroke-width="1.6"/>
<line x1="1614.4" y1="513" x2="1621.4" y2="513" stroke="#8a8a8a" stroke-width="1.6"/>
<text x="1187.8" y="518.9" font-family="'DejaVu Sans', 'Bitstream Vera Sans', sans-serif" font-size="16.2" text-anchor="end" font-weight="normal" fill="#1c1c1c" >0.65</text>
<line x1="1193.8" y1="561.4" x2="1200.8" y2="561.4" stroke="#8a8a8a" stroke-width="1.6"/>
<line x1="1614.4" y1="561.4" x2="1621.4" y2="561.4" stroke="#8a8a8a" stroke-width="1.6"/>
<text x="1187.8" y="567.3" font-family="'DejaVu Sans', 'Bitstream Vera Sans', sans-serif" font-size="16.2" text-anchor="end" font-weight="normal" fill="#1c1c1c" >0.60</text>
<line x1="1193.8" y1="609.8" x2="1200.8" y2="609.8" stroke="#8a8a8a" stroke-width="1.6"/>
<line x1="1614.4" y1="609.8" x2="1621.4" y2="609.8" stroke="#8a8a8a" stroke-width="1.6"/>
<text x="1187.8" y="615.7" font-family="'DejaVu Sans', 'Bitstream Vera Sans', sans-serif" font-size="16.2" text-anchor="end" font-weight="normal" fill="#1c1c1c" >0.55</text>
<line x1="1193.8" y1="658.3" x2="1200.8" y2="658.3" stroke="#8a8a8a" stroke-width="1.6"/>
<line x1="1614.4" y1="658.3" x2="1621.4" y2="658.3" stroke="#8a8a8a" stroke-width="1.6"/>
<text x="1187.8" y="664.2" font-family="'DejaVu Sans', 'Bitstream Vera Sans', sans-serif" font-size="16.2" text-anchor="end" font-weight="normal" fill="#1c1c1c" >0.50</text>
<line x1="1193.8" y1="706.7" x2="1200.8" y2="706.7" stroke="#8a8a8a" stroke-width="1.6"/>
<line x1="1614.4" y1="706.7" x2="1621.4" y2="706.7" stroke="#8a8a8a" stroke-width="1.6"/>
<text x="1187.8" y="712.6" font-family="'DejaVu Sans', 'Bitstream Vera Sans', sans-serif" font-size="16.2" text-anchor="end" font-weight="normal" fill="#1c1c1c" >0.45</text>
<line x1="1336.7" y1="464.2" x2="1336.7" y2="471.2" stroke="#8a8a8a" stroke-width="1.6"/>
<line x1="1336.7" y1="699.5" x2="1336.7" y2="706.5" stroke="#8a8a8a" stroke-width="1.6"/>
<line x1="1477.5" y1="464.2" x2="1477.5" y2="471.2" stroke="#8a8a8a" stroke-width="1.6"/>
<line x1="1477.5" y1="699.5" x2="1477.5" y2="706.5" stroke="#8a8a8a" stroke-width="1.6"/>
<rect x="1193.8" y="464.2" width="427.6" height="242.3" fill="none" stroke="#9a9a9a" stroke-width="4.2"/>
<rect x="1192.8" y="463.2" width="429.6" height="244.3" fill="none" stroke="#666" stroke-width="2.1"/>
<text x="1194" y="726.4" font-family="'DejaVu Sans', 'Bitstream Vera Sans', sans-serif" font-size="16.2" text-anchor="start" font-weight="normal" fill="#1c1c1c" >-10.0</text>
<text x="1337" y="726.4" font-family="'DejaVu Sans', 'Bitstream Vera Sans', sans-serif" font-size="16.2" text-anchor="middle" font-weight="normal" fill="#1c1c1c" >Start</text>
<text x="1479.3" y="726.4" font-family="'DejaVu Sans', 'Bitstream Vera Sans', sans-serif" font-size="16.2" text-anchor="middle" font-weight="normal" fill="#1c1c1c" >End</text>
<text x="1621.8" y="726.4" font-family="'DejaVu Sans', 'Bitstream Vera Sans', sans-serif" font-size="16.2" text-anchor="end" font-weight="normal" fill="#1c1c1c" >10.0Kb</text>
<rect x="1338" y="740.3" width="139.5" height="11.4" fill="#000"/>
<text x="1410.7" y="775" font-family="'Liberation Sans', Arial, Helvetica, sans-serif" font-size="19.5" text-anchor="middle" font-weight="bold" fill="#000" >MCD</text>
<text x="1406.5" y="441.2" font-family="'Liberation Sans', Arial, Helvetica, sans-serif" font-size="23" text-anchor="middle" font-weight="normal" fill="#111" >Pol II (liver)</text>
<text x="0" y="0" font-family="'Liberation Sans', Arial, Helvetica, sans-serif" font-size="22.8" text-anchor="middle" fill="#111" transform="translate(1128.5,591) rotate(-90)">Average enrichment</text>
<line x1="1376" y1="481.4" x2="1396" y2="481.4" stroke="#9364c4" stroke-width="3.2"/>
<text x="1409.5" y="485.6" font-family="'DejaVu Sans', 'Bitstream Vera Sans', sans-serif" font-size="13.6" text-anchor="start" font-weight="normal" fill="#383838" >Pol II</text>
<clipPath id="clip293"><rect x="1744" y="464.1" width="437.2" height="241.9"/></clipPath>
<line x1="1888.2" y1="464.1" x2="1888.2" y2="706" stroke="#6a6a6a" stroke-width="2.4" stroke-dasharray="7,4"/>
<line x1="2035.8" y1="464.1" x2="2035.8" y2="706" stroke="#6a6a6a" stroke-width="2.4" stroke-dasharray="7,4"/>
<g clip-path="url(#clip293)">
<polyline points="1744.7,650.2 1756.5,650.7 1767.2,650.7 1777.9,651.3 1786.5,652.4 1795.1,654.5 1805.8,655 1814.4,656.2 1823,656.7 1831.5,654.5 1840.1,650.7 1848.7,645.9 1857.3,639.5 1865.9,634.1 1874.5,630.9 1883,628.8 1887.8,626.6 1890.5,618.1 1898.1,609.5 1906.6,603 1915.2,596.6 1923.8,594.5 1932.4,594 1941,594 1949.5,594.5 1958.1,594.5 1963.6,592.3 1972.2,590.6 1980.7,590.2 1989.3,590.2 1997.9,590.2 2004.3,593.4 2010.8,598.3 2019.4,603 2027.9,608.4 2033.3,614.8 2036.5,623.4 2045.1,628.4 2053.7,634.1 2062.3,639.9 2070.9,645.9 2079.4,650.2 2088,653.5 2096.6,656.2 2105.2,657.1 2113.8,656.7 2122.3,655.6 2130.9,653.5 2139.5,652.8 2148.1,652 2156.7,651.3 2165.3,650.7 2178.1,651.3" fill="none" stroke="#ee4c4c" stroke-width="2.6" stroke-linejoin="round" stroke-linecap="round" />
<polyline points="1744.7,619.1 1752.2,619.8 1760.7,620.2 1769.3,620.6 1777.9,621.3 1786.5,622.3 1795.1,623.4 1803.7,626.6 1812.2,629.9 1820.8,635.2 1829.4,641.7 1838,649.2 1846.6,656.7 1855.1,664.2 1863.7,670.6 1872.3,674.9 1880.9,678.1 1889.5,678.1 1898.1,680.3 1906.6,682 1917.4,682.4 1928.1,683.1 1938.8,683.5 1949.5,684.1 1960.3,684.6 1963.6,685 1972.2,685 1980.7,684.6 1989.3,684.1 1997.9,684.1 2006.5,683.5 2015.1,682.4 2023.7,680.7 2032.2,679.2 2040.8,678.1 2049.4,674.9 2058,670.6 2066.6,664.2 2075.1,656.7 2083.7,648.1 2092.3,639.5 2100.9,633.1 2109.5,628.8 2118.1,625.6 2126.6,622.3 2135.2,620.6 2143.8,619.8 2152.4,619.1 2161,618.5 2169.5,618.5 2178.1,619.8" fill="none" stroke="#b9df6e" stroke-width="2.6" stroke-linejoin="round" stroke-linecap="round" />
<polyline points="1744.7,628.4 1752.2,628.8 1760.7,628.4 1769.3,627.7 1777.9,626.6 1786.5,625.6 1797.2,625.6 1805.8,623.4 1812.2,620.2 1820.8,615.9 1827.3,609.5 1833.7,600.9 1840.1,592.3 1846.6,581.6 1853,570.9 1859.4,562.3 1864.8,556.9 1869.1,558 1872.3,566.6 1876.6,583.7 1880.9,605.2 1885.2,622.3 1889.5,635.2 1894.8,644.9 1902.3,645.9 1913.1,646.4 1923.8,647 1934.5,647 1945.3,645.9 1949.5,644.9 1956,647 1962.4,648.1 1963.6,649.2 1972.2,649.2 1980.7,649.8 1989.3,650.7 1997.9,651.3 2006.5,650.2 2015.1,648.5 2023.7,647.7 2032.2,645.9 2034.8,635.2 2037.6,615.9 2040.8,594.5 2045.1,573 2049.4,562.3 2053.7,555.8 2060.1,554.8 2064.4,560.1 2070.9,570.9 2077.3,581.6 2083.7,590.2 2090.2,600.9 2096.6,609.5 2103,617 2109.5,621.3 2118.1,623.4 2126.6,626.6 2135.2,627.7 2143.8,629.2 2152.4,629.9 2161,630.5 2169.5,629.2 2178.1,630.9" fill="none" stroke="#4cc6d6" stroke-width="2.6" stroke-linejoin="round" stroke-linecap="round" />
<polyline points="1744.7,629.9 1752.2,630.5 1760.7,629.9 1769.3,629.2 1777.9,626.6 1786.5,624.9 1797.2,624.5 1803.7,620.2 1812.2,613.8 1820.8,605.2 1827.3,596.6 1833.7,583.7 1840.1,568.7 1846.6,549.4 1851.9,532.2 1857.3,512.9 1861.6,493.6 1864.8,487.2 1869.1,490.4 1872.3,493.6 1875.5,519.4 1878.7,551.5 1882,583.7 1885.2,618.1 1888.4,635.2 1893.8,648.1 1902.3,649.2 1913.1,649.2 1923.8,650.2 1934.5,651.3 1945.3,651.3 1956,651.3 1962.4,651.3 1963.6,650.7 1972.2,650.2 1980.7,650.7 1989.3,651.3 1997.9,652 2006.5,650.2 2015.1,649.2 2023.7,648.1 2032.2,647.7 2034.8,637.4 2037.6,605.2 2040.8,573 2045.1,530.1 2049.4,497.9 2053.7,489.3 2060.1,487.2 2064.4,497.9 2068.7,519.4 2075.1,540.8 2081.6,562.3 2088,579.4 2094.5,594.5 2100.9,607.3 2109.5,615.9 2118.1,622.3 2126.6,626.6 2135.2,628.4 2143.8,629.9 2152.4,630.9 2161,629.9 2169.5,629.9 2178.1,632" fill="none" stroke="#3a9e3a" stroke-width="2.6" stroke-linejoin="round" stroke-linecap="round" />
</g>
<line x1="1744" y1="483" x2="1751" y2="483" stroke="#8a8a8a" stroke-width="1.6"/>
<line x1="2174.2" y1="483" x2="2181.2" y2="483" stroke="#8a8a8a" stroke-width="1.6"/>
<text x="1738" y="488.9" font-family="'DejaVu Sans', 'Bitstream Vera Sans', sans-serif" font-size="16.2" text-anchor="end" font-weight="normal" fill="#1c1c1c" >1.6</text>
<line x1="1744" y1="520.2" x2="1751" y2="520.2" stroke="#8a8a8a" stroke-width="1.6"/>
<line x1="2174.2" y1="520.2" x2="2181.2" y2="520.2" stroke="#8a8a8a" stroke-width="1.6"/>
<text x="1738" y="526.1" font-family="'DejaVu Sans', 'Bitstream Vera Sans', sans-serif" font-size="16.2" text-anchor="end" font-weight="normal" fill="#1c1c1c" >1.4</text>
<line x1="1744" y1="557.4" x2="1751" y2="557.4" stroke="#8a8a8a" stroke-width="1.6"/>
<line x1="2174.2" y1="557.4" x2="2181.2" y2="557.4" stroke="#8a8a8a" stroke-width="1.6"/>
<text x="1738" y="563.3" font-family="'DejaVu Sans', 'Bitstream Vera Sans', sans-serif" font-size="16.2" text-anchor="end" font-weight="normal" fill="#1c1c1c" >1.2</text>
<line x1="1744" y1="594.5" x2="1751" y2="594.5" stroke="#8a8a8a" stroke-width="1.6"/>
<line x1="2174.2" y1="594.5" x2="2181.2" y2="594.5" stroke="#8a8a8a" stroke-width="1.6"/>
<text x="1738" y="600.4" font-family="'DejaVu Sans', 'Bitstream Vera Sans', sans-serif" font-size="16.2" text-anchor="end" font-weight="normal" fill="#1c1c1c" >1.0</text>
<line x1="1744" y1="631.7" x2="1751" y2="631.7" stroke="#8a8a8a" stroke-width="1.6"/>
<line x1="2174.2" y1="631.7" x2="2181.2" y2="631.7" stroke="#8a8a8a" stroke-width="1.6"/>
<text x="1738" y="637.6" font-family="'DejaVu Sans', 'Bitstream Vera Sans', sans-serif" font-size="16.2" text-anchor="end" font-weight="normal" fill="#1c1c1c" >0.8</text>
<line x1="1744" y1="668.9" x2="1751" y2="668.9" stroke="#8a8a8a" stroke-width="1.6"/>
<line x1="2174.2" y1="668.9" x2="2181.2" y2="668.9" stroke="#8a8a8a" stroke-width="1.6"/>
<text x="1738" y="674.8" font-family="'DejaVu Sans', 'Bitstream Vera Sans', sans-serif" font-size="16.2" text-anchor="end" font-weight="normal" fill="#1c1c1c" >0.6</text>
<line x1="1744" y1="706.1" x2="1751" y2="706.1" stroke="#8a8a8a" stroke-width="1.6"/>
<line x1="2174.2" y1="706.1" x2="2181.2" y2="706.1" stroke="#8a8a8a" stroke-width="1.6"/>
<text x="1738" y="712" font-family="'DejaVu Sans', 'Bitstream Vera Sans', sans-serif" font-size="16.2" text-anchor="end" font-weight="normal" fill="#1c1c1c" >0.4</text>
<line x1="1888.2" y1="464.1" x2="1888.2" y2="471.1" stroke="#8a8a8a" stroke-width="1.6"/>
<line x1="1888.2" y1="699" x2="1888.2" y2="706" stroke="#8a8a8a" stroke-width="1.6"/>
<line x1="2035.8" y1="464.1" x2="2035.8" y2="471.1" stroke="#8a8a8a" stroke-width="1.6"/>
<line x1="2035.8" y1="699" x2="2035.8" y2="706" stroke="#8a8a8a" stroke-width="1.6"/>
<rect x="1744" y="464.1" width="437.2" height="241.9" fill="none" stroke="#9a9a9a" stroke-width="4.2"/>
<rect x="1743" y="463.1" width="439.2" height="243.9" fill="none" stroke="#666" stroke-width="2.1"/>
<text x="1744" y="725.9" font-family="'DejaVu Sans', 'Bitstream Vera Sans', sans-serif" font-size="16.2" text-anchor="start" font-weight="normal" fill="#1c1c1c" >-10.0</text>
<text x="1888" y="725.9" font-family="'DejaVu Sans', 'Bitstream Vera Sans', sans-serif" font-size="16.2" text-anchor="middle" font-weight="normal" fill="#1c1c1c" >Start</text>
<text x="2035.8" y="725.9" font-family="'DejaVu Sans', 'Bitstream Vera Sans', sans-serif" font-size="16.2" text-anchor="middle" font-weight="normal" fill="#1c1c1c" >End</text>
<text x="2181.5" y="725.9" font-family="'DejaVu Sans', 'Bitstream Vera Sans', sans-serif" font-size="16.2" text-anchor="end" font-weight="normal" fill="#1c1c1c" >10.0Kb</text>
<rect x="1894.9" y="740.2" width="139.3" height="11.4" fill="#000"/>
<text x="1967.6" y="775" font-family="'Liberation Sans', Arial, Helvetica, sans-serif" font-size="19.5" text-anchor="middle" font-weight="bold" fill="#000" >MCD</text>
<text x="1969" y="441.2" font-family="'Liberation Sans', Arial, Helvetica, sans-serif" font-size="23" text-anchor="middle" font-weight="normal" fill="#111" >Histone modifications (liver)</text>
<text x="0" y="0" font-family="'Liberation Sans', Arial, Helvetica, sans-serif" font-size="22.8" text-anchor="middle" fill="#111" transform="translate(1693,591) rotate(-90)">Average enrichment</text>
<line x1="1909.5" y1="481.4" x2="1929.4" y2="481.4" stroke="#ee4c4c" stroke-width="3.2"/>
<text x="1943.5" y="485.6" font-family="'DejaVu Sans', 'Bitstream Vera Sans', sans-serif" font-size="13.6" text-anchor="start" font-weight="normal" fill="#383838" >H3K27me3</text>
<line x1="1909.5" y1="500.9" x2="1929.4" y2="500.9" stroke="#3a9e3a" stroke-width="3.2"/>
<text x="1943.5" y="505.1" font-family="'DejaVu Sans', 'Bitstream Vera Sans', sans-serif" font-size="13.6" text-anchor="start" font-weight="normal" fill="#383838" >H3K27ac</text>
<line x1="1909.5" y1="520.5" x2="1929.4" y2="520.5" stroke="#4cc6d6" stroke-width="3.2"/>
<text x="1943.5" y="524.7" font-family="'DejaVu Sans', 'Bitstream Vera Sans', sans-serif" font-size="13.6" text-anchor="start" font-weight="normal" fill="#383838" >H3K9ac</text>
<line x1="1909.5" y1="540" x2="1929.4" y2="540" stroke="#b9df6e" stroke-width="3.2"/>
<text x="1943.5" y="544.2" font-family="'DejaVu Sans', 'Bitstream Vera Sans', sans-serif" font-size="13.6" text-anchor="start" font-weight="normal" fill="#383838" >H3K36me3</text>
<clipPath id="clip345"><rect x="651.5" y="887.5" width="391.7" height="243"/></clipPath>
<g clip-path="url(#clip345)">
<polyline points="652.5,1105.2 657.9,1109 664.3,1111.2 670.7,1109.5 679.3,1107.3 685.7,1105.6 692.2,1104.1 695.4,1085.9 697.5,1051.6 699.7,1008.7 701.8,965.8 704,940 707.6,928.3 711.5,940 715.8,952.9 720.1,962.6 725.4,967.9 730.8,970.1 737.2,969 743.6,967.9 750.1,965.4 756.5,964.1 762.9,963.2 769.4,961.1 775.8,957.2 782.3,955.5 788.7,955.1 795.1,954.6 801.6,958.3 808,954.6 814.4,952.9 820.9,951.2 827.3,951.8 833.7,954 840.2,956.1 848.6,952.5 855,954.6 861.5,951.9 870,950.8 878.6,950.8 885,953.4 891.5,951.2 900.1,952.5 904.4,955.1 909.7,961.1 917.2,960.4 925.8,960.4 932.2,965.8 936.5,966.9 941.9,964.1 947.3,969 953.7,971.2 958,971.2 964.4,965.8 970.8,962.6 976.2,958.9 980.5,946.5 984.1,936.8 986.9,932.6 990.2,944.4 992.3,955.1 994,987.3 995.5,1030.2 997.7,1073.1 1000.9,1103.1 1007.3,1105.2 1015.9,1106.9 1024.5,1108.4 1033.1,1109.5 1037.3,1109.1 1041.6,1106.3" fill="none" stroke="#5aaaf5" stroke-width="2.6" stroke-linejoin="round" stroke-linecap="round" />
</g>
<line x1="651.5" y1="887.2" x2="658.5" y2="887.2" stroke="#8a8a8a" stroke-width="1.6"/>
<line x1="1036.2" y1="887.2" x2="1043.2" y2="887.2" stroke="#8a8a8a" stroke-width="1.6"/>
<text x="645.5" y="893.1" font-family="'DejaVu Sans', 'Bitstream Vera Sans', sans-serif" font-size="16.2" text-anchor="end" font-weight="normal" fill="#1c1c1c" >1.2</text>
<line x1="651.5" y1="927.7" x2="658.5" y2="927.7" stroke="#8a8a8a" stroke-width="1.6"/>
<line x1="1036.2" y1="927.7" x2="1043.2" y2="927.7" stroke="#8a8a8a" stroke-width="1.6"/>
<text x="645.5" y="933.6" font-family="'DejaVu Sans', 'Bitstream Vera Sans', sans-serif" font-size="16.2" text-anchor="end" font-weight="normal" fill="#1c1c1c" >1.1</text>
<line x1="651.5" y1="968.2" x2="658.5" y2="968.2" stroke="#8a8a8a" stroke-width="1.6"/>
<line x1="1036.2" y1="968.2" x2="1043.2" y2="968.2" stroke="#8a8a8a" stroke-width="1.6"/>
<text x="645.5" y="974.1" font-family="'DejaVu Sans', 'Bitstream Vera Sans', sans-serif" font-size="16.2" text-anchor="end" font-weight="normal" fill="#1c1c1c" >1.0</text>
<line x1="651.5" y1="1008.7" x2="658.5" y2="1008.7" stroke="#8a8a8a" stroke-width="1.6"/>
<line x1="1036.2" y1="1008.7" x2="1043.2" y2="1008.7" stroke="#8a8a8a" stroke-width="1.6"/>
<text x="645.5" y="1014.6" font-family="'DejaVu Sans', 'Bitstream Vera Sans', sans-serif" font-size="16.2" text-anchor="end" font-weight="normal" fill="#1c1c1c" >0.9</text>
<line x1="651.5" y1="1049.2" x2="658.5" y2="1049.2" stroke="#8a8a8a" stroke-width="1.6"/>
<line x1="1036.2" y1="1049.2" x2="1043.2" y2="1049.2" stroke="#8a8a8a" stroke-width="1.6"/>
<text x="645.5" y="1055.1" font-family="'DejaVu Sans', 'Bitstream Vera Sans', sans-serif" font-size="16.2" text-anchor="end" font-weight="normal" fill="#1c1c1c" >0.8</text>
<line x1="651.5" y1="1089.7" x2="658.5" y2="1089.7" stroke="#8a8a8a" stroke-width="1.6"/>
<line x1="1036.2" y1="1089.7" x2="1043.2" y2="1089.7" stroke="#8a8a8a" stroke-width="1.6"/>
<text x="645.5" y="1095.6" font-family="'DejaVu Sans', 'Bitstream Vera Sans', sans-serif" font-size="16.2" text-anchor="end" font-weight="normal" fill="#1c1c1c" >0.7</text>
<line x1="651.5" y1="1130.2" x2="658.5" y2="1130.2" stroke="#8a8a8a" stroke-width="1.6"/>
<line x1="1036.2" y1="1130.2" x2="1043.2" y2="1130.2" stroke="#8a8a8a" stroke-width="1.6"/>
<text x="645.5" y="1136.1" font-family="'DejaVu Sans', 'Bitstream Vera Sans', sans-serif" font-size="16.2" text-anchor="end" font-weight="normal" fill="#1c1c1c" >0.6</text>
<line x1="700.4" y1="887.5" x2="700.4" y2="894.5" stroke="#8a8a8a" stroke-width="1.6"/>
<line x1="700.4" y1="1123.5" x2="700.4" y2="1130.5" stroke="#8a8a8a" stroke-width="1.6"/>
<line x1="994" y1="887.5" x2="994" y2="894.5" stroke="#8a8a8a" stroke-width="1.6"/>
<line x1="994" y1="1123.5" x2="994" y2="1130.5" stroke="#8a8a8a" stroke-width="1.6"/>
<rect x="651.5" y="887.5" width="391.7" height="243" fill="none" stroke="#9a9a9a" stroke-width="4.2"/>
<rect x="650.5" y="886.5" width="393.7" height="245" fill="none" stroke="#666" stroke-width="2.1"/>
<text x="652.4" y="1150.4" font-family="'DejaVu Sans', 'Bitstream Vera Sans', sans-serif" font-size="16.2" text-anchor="start" font-weight="normal" fill="#1c1c1c" >-5.0</text>
<text x="687.8" y="1150.4" font-family="'DejaVu Sans', 'Bitstream Vera Sans', sans-serif" font-size="16.2" text-anchor="start" font-weight="normal" fill="#1c1c1c" >Start</text>
<text x="992.3" y="1150.4" font-family="'DejaVu Sans', 'Bitstream Vera Sans', sans-serif" font-size="16.2" text-anchor="end" font-weight="normal" fill="#1c1c1c" >End</text>
<text x="1044" y="1150.4" font-family="'DejaVu Sans', 'Bitstream Vera Sans', sans-serif" font-size="16.2" text-anchor="end" font-weight="normal" fill="#1c1c1c" >5.0Kb</text>
<rect x="701.3" y="1160.8" width="291.9" height="11.7" fill="#000"/>
<text x="845.6" y="1194.9" font-family="'Liberation Sans', Arial, Helvetica, sans-serif" font-size="19.5" text-anchor="middle" font-weight="bold" fill="#000" >MCD</text>
<text x="853.4" y="865.8" font-family="'Liberation Sans', Arial, Helvetica, sans-serif" font-size="23" text-anchor="middle" font-weight="normal" fill="#111" >mH2A1 (myoblast)</text>
<text x="0" y="0" font-family="'Liberation Sans', Arial, Helvetica, sans-serif" font-size="22.8" text-anchor="middle" fill="#111" transform="translate(596.5,1016) rotate(-90)">Average enrichment</text>
<line x1="807" y1="905.2" x2="826.6" y2="905.2" stroke="#5aaaf5" stroke-width="3.2"/>
<text x="839.6" y="909.4" font-family="'DejaVu Sans', 'Bitstream Vera Sans', sans-serif" font-size="13.6" text-anchor="start" font-weight="normal" fill="#383838" >mH2A1</text>
<line x1="906" y1="1101.7" x2="955.8" y2="1101.7" stroke="#000" stroke-width="4.5"/>
<text x="929.7" y="1090.6" font-family="'Liberation Sans', Arial, Helvetica, sans-serif" font-size="19.5" text-anchor="middle" font-weight="bold" fill="#000" >5kb</text>
<clipPath id="clip388"><rect x="1192.5" y="887.5" width="428.5" height="242.5"/></clipPath>
<line x1="1334.8" y1="887.5" x2="1334.8" y2="1130" stroke="#6a6a6a" stroke-width="2.4" stroke-dasharray="7,4"/>
<line x1="1477.8" y1="887.5" x2="1477.8" y2="1130" stroke="#6a6a6a" stroke-width="2.4" stroke-dasharray="7,4"/>
<g clip-path="url(#clip388)">
<polyline points="1193.6,979.1 1197.9,983 1202.2,986.2 1206.5,982.5 1210.7,979.1 1215,981.2 1221.5,986.2 1227.9,989.4 1233.3,989 1238.6,985.1 1245.1,979.7 1251.5,974.8 1257.9,969.7 1264.4,964.1 1270.8,963.7 1277.2,962.6 1283.7,958.3 1289,950.8 1294.4,933.6 1299.8,931.5 1305.1,931.5 1310.5,931.9 1313.7,926.1 1316.9,918.6 1320.1,931.5 1324.4,948.6 1327.6,987.3 1330.9,1030.2 1334.1,1073.1 1337.3,1103.1 1343.7,1107.4 1352.3,1108.4 1360.9,1108.4 1369.5,1107.4 1375.9,1105.2 1381.3,1103.1 1387.7,1105.2 1394.1,1104.2 1399.5,1105.2 1405.9,1109.1 1408.6,1110.6 1416.1,1106.9 1423.6,1111.7 1432.2,1106.9 1438.6,1109.1 1445,1113.8 1452.6,1111.7 1459,1114.9 1466.5,1121.3 1472.9,1116 1475.1,1100.9 1477.6,1073.1 1480.4,1030.2 1483.7,987.3 1486.9,955.1 1490.1,933.6 1493.3,914.3 1496.1,901.5 1499.7,912.2 1504,922.9 1509.4,931.5 1515.8,936.8 1521.2,944.4 1526.6,955.1 1533,963.7 1539.4,970.1 1543.7,980.8 1548,988.3 1554.4,988.3 1559.8,988.3 1567.3,994.8 1572.7,987.3 1578,978.7 1582.3,977.6 1587.7,983 1594.1,992.6 1600.6,989.4 1607,989.8 1613.4,991.5 1618.8,994.1" fill="none" stroke="#9364c4" stroke-width="2.6" stroke-linejoin="round" stroke-linecap="round" />
</g>
<line x1="1192.5" y1="887.2" x2="1199.5" y2="887.2" stroke="#8a8a8a" stroke-width="1.6"/>
<line x1="1614" y1="887.2" x2="1621" y2="887.2" stroke="#8a8a8a" stroke-width="1.6"/>
<text x="1186.5" y="893.1" font-family="'DejaVu Sans', 'Bitstream Vera Sans', sans-serif" font-size="16.2" text-anchor="end" font-weight="normal" fill="#1c1c1c" >0.90</text>
<line x1="1192.5" y1="927.7" x2="1199.5" y2="927.7" stroke="#8a8a8a" stroke-width="1.6"/>
<line x1="1614" y1="927.7" x2="1621" y2="927.7" stroke="#8a8a8a" stroke-width="1.6"/>
<text x="1186.5" y="933.6" font-family="'DejaVu Sans', 'Bitstream Vera Sans', sans-serif" font-size="16.2" text-anchor="end" font-weight="normal" fill="#1c1c1c" >0.85</text>
<line x1="1192.5" y1="968.2" x2="1199.5" y2="968.2" stroke="#8a8a8a" stroke-width="1.6"/>
<line x1="1614" y1="968.2" x2="1621" y2="968.2" stroke="#8a8a8a" stroke-width="1.6"/>
<text x="1186.5" y="974.1" font-family="'DejaVu Sans', 'Bitstream Vera Sans', sans-serif" font-size="16.2" text-anchor="end" font-weight="normal" fill="#1c1c1c" >0.80</text>
<line x1="1192.5" y1="1008.7" x2="1199.5" y2="1008.7" stroke="#8a8a8a" stroke-width="1.6"/>
<line x1="1614" y1="1008.7" x2="1621" y2="1008.7" stroke="#8a8a8a" stroke-width="1.6"/>
<text x="1186.5" y="1014.6" font-family="'DejaVu Sans', 'Bitstream Vera Sans', sans-serif" font-size="16.2" text-anchor="end" font-weight="normal" fill="#1c1c1c" >0.75</text>
<line x1="1192.5" y1="1049.2" x2="1199.5" y2="1049.2" stroke="#8a8a8a" stroke-width="1.6"/>
<line x1="1614" y1="1049.2" x2="1621" y2="1049.2" stroke="#8a8a8a" stroke-width="1.6"/>
<text x="1186.5" y="1055.1" font-family="'DejaVu Sans', 'Bitstream Vera Sans', sans-serif" font-size="16.2" text-anchor="end" font-weight="normal" fill="#1c1c1c" >0.70</text>
<line x1="1192.5" y1="1089.7" x2="1199.5" y2="1089.7" stroke="#8a8a8a" stroke-width="1.6"/>
<line x1="1614" y1="1089.7" x2="1621" y2="1089.7" stroke="#8a8a8a" stroke-width="1.6"/>
<text x="1186.5" y="1095.6" font-family="'DejaVu Sans', 'Bitstream Vera Sans', sans-serif" font-size="16.2" text-anchor="end" font-weight="normal" fill="#1c1c1c" >0.65</text>
<line x1="1192.5" y1="1130.2" x2="1199.5" y2="1130.2" stroke="#8a8a8a" stroke-width="1.6"/>
<line x1="1614" y1="1130.2" x2="1621" y2="1130.2" stroke="#8a8a8a" stroke-width="1.6"/>
<text x="1186.5" y="1136.1" font-family="'DejaVu Sans', 'Bitstream Vera Sans', sans-serif" font-size="16.2" text-anchor="end" font-weight="normal" fill="#1c1c1c" >0.60</text>
<line x1="1334.8" y1="887.5" x2="1334.8" y2="894.5" stroke="#8a8a8a" stroke-width="1.6"/>
<line x1="1334.8" y1="1123" x2="1334.8" y2="1130" stroke="#8a8a8a" stroke-width="1.6"/>
<line x1="1477.8" y1="887.5" x2="1477.8" y2="894.5" stroke="#8a8a8a" stroke-width="1.6"/>
<line x1="1477.8" y1="1123" x2="1477.8" y2="1130" stroke="#8a8a8a" stroke-width="1.6"/>
<rect x="1192.5" y="887.5" width="428.5" height="242.5" fill="none" stroke="#9a9a9a" stroke-width="4.2"/>
<rect x="1191.5" y="886.5" width="430.5" height="244.5" fill="none" stroke="#666" stroke-width="2.1"/>
<text x="1193" y="1149.9" font-family="'DejaVu Sans', 'Bitstream Vera Sans', sans-serif" font-size="16.2" text-anchor="start" font-weight="normal" fill="#1c1c1c" >-10.0</text>
<text x="1335" y="1149.9" font-family="'DejaVu Sans', 'Bitstream Vera Sans', sans-serif" font-size="16.2" text-anchor="middle" font-weight="normal" fill="#1c1c1c" >Start</text>
<text x="1478" y="1149.9" font-family="'DejaVu Sans', 'Bitstream Vera Sans', sans-serif" font-size="16.2" text-anchor="middle" font-weight="normal" fill="#1c1c1c" >End</text>
<text x="1621.5" y="1149.9" font-family="'DejaVu Sans', 'Bitstream Vera Sans', sans-serif" font-size="16.2" text-anchor="end" font-weight="normal" fill="#1c1c1c" >10.0Kb</text>
<rect x="1338.3" y="1160.8" width="139.8" height="11.7" fill="#000"/>
<text x="1411.2" y="1194.9" font-family="'Liberation Sans', Arial, Helvetica, sans-serif" font-size="19.5" text-anchor="middle" font-weight="bold" fill="#000" >MCD</text>
<text x="1410.3" y="865.8" font-family="'Liberation Sans', Arial, Helvetica, sans-serif" font-size="23" text-anchor="middle" font-weight="normal" fill="#111" >Pol II (myoblast)</text>
<text x="0" y="0" font-family="'Liberation Sans', Arial, Helvetica, sans-serif" font-size="22.8" text-anchor="middle" fill="#111" transform="translate(1127,1015.5) rotate(-90)">Average enrichment</text>
<line x1="1375.6" y1="905.2" x2="1394.5" y2="905.2" stroke="#9364c4" stroke-width="3.2"/>
<text x="1408.1" y="909.4" font-family="'DejaVu Sans', 'Bitstream Vera Sans', sans-serif" font-size="13.6" text-anchor="start" font-weight="normal" fill="#383838" >Pol II</text>
<clipPath id="clip431"><rect x="1743" y="887.5" width="438" height="242.5"/></clipPath>
<line x1="1889.3" y1="887.5" x2="1889.3" y2="1130" stroke="#6a6a6a" stroke-width="2.4" stroke-dasharray="7,4"/>
<line x1="2035.8" y1="887.5" x2="2035.8" y2="1130" stroke="#6a6a6a" stroke-width="2.4" stroke-dasharray="7,4"/>
<g clip-path="url(#clip431)">
<polyline points="1744.7,993.7 1752.2,996.9 1760.7,995.9 1769.3,996.9 1777.9,995.9 1786.5,996.9 1795.1,995.9 1803.7,995.4 1812.2,995.9 1820.8,996.9 1829.4,996.9 1838,997.6 1846.6,996.9 1855.1,997.6 1863.7,999.1 1872.3,1000.1 1880.9,1001.2 1886.3,996.9 1891.6,985.1 1900.2,985.1 1908.8,987.3 1917.4,988.3 1925.9,988.3 1934.5,989.4 1943.1,991.1 1951.7,989.4 1958.1,988.3 1963.6,988.3 1972.2,986.2 1980.7,985.6 1989.3,984.7 1997.9,986.2 2006.5,988.3 2015.1,986.2 2023.7,985.1 2031.2,982.6 2035.5,991.6 2040.8,997.6 2049.4,1000.1 2058,999.1 2066.6,998 2075.1,997.6 2083.7,998 2092.3,997.6 2100.9,998 2109.5,996.9 2118.1,996.3 2126.6,995.9 2135.2,997.6 2143.8,995.9 2152.4,996.3 2161,995.9 2169.5,995.9 2178.1,994.8" fill="none" stroke="#ee4c4c" stroke-width="2.6" stroke-linejoin="round" stroke-linecap="round" />
<polyline points="1744.7,1027 1752.2,1032.3 1760.7,1034.5 1769.3,1034.5 1777.9,1034.5 1786.5,1033.4 1795.1,1031.9 1803.7,1030.2 1812.2,1028 1818.7,1019.5 1825.1,1006.6 1831.5,993.7 1838,983 1844.4,972.3 1850.9,961.5 1857.3,946.5 1862.7,929.3 1868,929.3 1872.3,937.9 1876.6,961.5 1880.9,991.6 1884.1,1019.5 1887.3,1045.2 1890.5,1062.4 1895.9,1059.1 1901.3,1054.9 1906.6,1053.4 1915.2,1052.7 1923.8,1051.6 1932.4,1050.6 1941,1050.6 1949.5,1051.6 1958.1,1054.9 1963.6,1054.9 1972.2,1054.2 1980.7,1053.8 1989.3,1053.4 1997.9,1052.7 2006.5,1054.9 2015.1,1056.4 2021.5,1058.1 2026.9,1061.3 2032.2,1062.4 2034.8,1040.9 2037.6,1008.7 2040.8,976.5 2045.1,944.4 2049.4,929.3 2053.7,926.1 2060.1,926.1 2064.4,933.6 2068.7,944.4 2074.1,957.2 2079.4,970.1 2085.9,980.8 2092.3,991.6 2098.7,1002.3 2105.2,1013 2111.6,1021.6 2118.1,1028 2124.5,1032.8 2133.1,1033.4 2141.7,1032.3 2150.2,1031.3 2156.7,1030.2 2163.1,1033.4 2169.5,1032.8 2178.1,1034.5" fill="none" stroke="#3a9e3a" stroke-width="2.6" stroke-linejoin="round" stroke-linecap="round" />
<polyline points="1744.7,948.7 1752.2,945.4 1760.7,941.1 1769.3,937.9 1775.8,935.8 1782.2,927.2 1788.6,925.1 1795.1,926.1 1801.5,925.5 1807.9,922.9 1814.4,918.6 1820.8,916 1827.3,915.4 1833.7,916.5 1840.1,921.8 1845.5,930.4 1850.9,942.2 1855.1,957.2 1859.4,972.3 1863.7,989.4 1868,1004.4 1872.3,1025.9 1876.6,1051.6 1883,1075.2 1889.5,1086 1895.9,1089.2 1902.3,1092.4 1910.9,1093.5 1921.7,1094.1 1932.4,1094.5 1943.1,1096.3 1953.8,1096.7 1955,1095.6 1963.6,1096.3 1972.2,1096.7 1980.7,1096.3 1989.3,1095.6 1997.9,1095.6 2006.5,1095 2015.1,1093.5 2023.7,1091.3 2030.1,1088.1 2035.5,1083.8 2039.7,1077.4 2044,1064.5 2048.3,1047.3 2052.6,1025.9 2056.9,1004.4 2061.2,983 2066.6,961.5 2071.9,946.5 2077.3,937.9 2083.7,929.3 2090.2,921.8 2096.6,914.8 2105.2,914.3 2113.8,914.8 2122.3,918.6 2128.8,922.9 2135.2,925.1 2143.8,927.2 2150.2,931.5 2156.7,936.9 2163.1,935.4 2169.5,939 2178.1,939" fill="none" stroke="#5aaaf5" stroke-width="2.6" stroke-linejoin="round" stroke-linecap="round" />
<polyline points="1744.7,977.6 1752.2,977.6 1760.7,979.8 1769.3,980.8 1777.9,984.1 1786.5,986.2 1795.1,991.6 1803.7,998 1812.2,1004.4 1820.8,1010.9 1829.4,1019.5 1838,1028 1846.6,1038.8 1855.1,1049.5 1863.7,1058.1 1872.3,1063.4 1877.7,1064.9 1883,1060.2 1888.4,1054.9 1893.8,1051.6 1900.2,1054.2 1908.8,1055.9 1919.5,1056.4 1930.2,1057 1941,1056.4 1951.7,1055.9 1955,1054.9 1963.6,1055.5 1972.2,1054.9 1980.7,1054.2 1989.3,1054.9 1997.9,1054.9 2006.5,1055.5 2015.1,1054.9 2023.7,1054.2 2031.2,1052.1 2035.5,1055.9 2040.8,1059.1 2049.4,1063.4 2058,1060.2 2066.6,1051.6 2075.1,1043.1 2083.7,1034.5 2092.3,1025.9 2100.9,1017.3 2109.5,1008.7 2118.1,1001.2 2126.6,993.7 2135.2,988.3 2143.8,984.1 2150.2,980.8 2158.8,979.8 2169.5,979.1 2178.1,978.3" fill="none" stroke="#b9df6e" stroke-width="2.6" stroke-linejoin="round" stroke-linecap="round" />
</g>
<line x1="1743" y1="887.2" x2="1750" y2="887.2" stroke="#8a8a8a" stroke-width="1.6"/>
<line x1="2174" y1="887.2" x2="2181" y2="887.2" stroke="#8a8a8a" stroke-width="1.6"/>
<text x="1737" y="893.1" font-family="'DejaVu Sans', 'Bitstream Vera Sans', sans-serif" font-size="16.2" text-anchor="end" font-weight="normal" fill="#1c1c1c" >1.0</text>
<line x1="1743" y1="917.6" x2="1750" y2="917.6" stroke="#8a8a8a" stroke-width="1.6"/>
<line x1="2174" y1="917.6" x2="2181" y2="917.6" stroke="#8a8a8a" stroke-width="1.6"/>
<text x="1737" y="923.5" font-family="'DejaVu Sans', 'Bitstream Vera Sans', sans-serif" font-size="16.2" text-anchor="end" font-weight="normal" fill="#1c1c1c" >0.9</text>
<line x1="1743" y1="947.9" x2="1750" y2="947.9" stroke="#8a8a8a" stroke-width="1.6"/>
<line x1="2174" y1="947.9" x2="2181" y2="947.9" stroke="#8a8a8a" stroke-width="1.6"/>
<text x="1737" y="953.8" font-family="'DejaVu Sans', 'Bitstream Vera Sans', sans-serif" font-size="16.2" text-anchor="end" font-weight="normal" fill="#1c1c1c" >0.8</text>
<line x1="1743" y1="978.3" x2="1750" y2="978.3" stroke="#8a8a8a" stroke-width="1.6"/>
<line x1="2174" y1="978.3" x2="2181" y2="978.3" stroke="#8a8a8a" stroke-width="1.6"/>
<text x="1737" y="984.2" font-family="'DejaVu Sans', 'Bitstream Vera Sans', sans-serif" font-size="16.2" text-anchor="end" font-weight="normal" fill="#1c1c1c" >0.7</text>
<line x1="1743" y1="1008.6" x2="1750" y2="1008.6" stroke="#8a8a8a" stroke-width="1.6"/>
<line x1="2174" y1="1008.6" x2="2181" y2="1008.6" stroke="#8a8a8a" stroke-width="1.6"/>
<text x="1737" y="1014.5" font-family="'DejaVu Sans', 'Bitstream Vera Sans', sans-serif" font-size="16.2" text-anchor="end" font-weight="normal" fill="#1c1c1c" >0.6</text>
<line x1="1743" y1="1039" x2="1750" y2="1039" stroke="#8a8a8a" stroke-width="1.6"/>
<line x1="2174" y1="1039" x2="2181" y2="1039" stroke="#8a8a8a" stroke-width="1.6"/>
<text x="1737" y="1044.9" font-family="'DejaVu Sans', 'Bitstream Vera Sans', sans-serif" font-size="16.2" text-anchor="end" font-weight="normal" fill="#1c1c1c" >0.5</text>
<line x1="1743" y1="1069.4" x2="1750" y2="1069.4" stroke="#8a8a8a" stroke-width="1.6"/>
<line x1="2174" y1="1069.4" x2="2181" y2="1069.4" stroke="#8a8a8a" stroke-width="1.6"/>
<text x="1737" y="1075.3" font-family="'DejaVu Sans', 'Bitstream Vera Sans', sans-serif" font-size="16.2" text-anchor="end" font-weight="normal" fill="#1c1c1c" >0.4</text>
<line x1="1743" y1="1099.7" x2="1750" y2="1099.7" stroke="#8a8a8a" stroke-width="1.6"/>
<line x1="2174" y1="1099.7" x2="2181" y2="1099.7" stroke="#8a8a8a" stroke-width="1.6"/>
<text x="1737" y="1105.6" font-family="'DejaVu Sans', 'Bitstream Vera Sans', sans-serif" font-size="16.2" text-anchor="end" font-weight="normal" fill="#1c1c1c" >0.3</text>
<line x1="1743" y1="1130.1" x2="1750" y2="1130.1" stroke="#8a8a8a" stroke-width="1.6"/>
<line x1="2174" y1="1130.1" x2="2181" y2="1130.1" stroke="#8a8a8a" stroke-width="1.6"/>
<text x="1737" y="1136" font-family="'DejaVu Sans', 'Bitstream Vera Sans', sans-serif" font-size="16.2" text-anchor="end" font-weight="normal" fill="#1c1c1c" >0.2</text>
<line x1="1889.3" y1="887.5" x2="1889.3" y2="894.5" stroke="#8a8a8a" stroke-width="1.6"/>
<line x1="1889.3" y1="1123" x2="1889.3" y2="1130" stroke="#8a8a8a" stroke-width="1.6"/>
<line x1="2035.8" y1="887.5" x2="2035.8" y2="894.5" stroke="#8a8a8a" stroke-width="1.6"/>
<line x1="2035.8" y1="1123" x2="2035.8" y2="1130" stroke="#8a8a8a" stroke-width="1.6"/>
<rect x="1743" y="887.5" width="438" height="242.5" fill="none" stroke="#9a9a9a" stroke-width="4.2"/>
<rect x="1742" y="886.5" width="440" height="244.5" fill="none" stroke="#666" stroke-width="2.1"/>
<text x="1743" y="1149.9" font-family="'DejaVu Sans', 'Bitstream Vera Sans', sans-serif" font-size="16.2" text-anchor="start" font-weight="normal" fill="#1c1c1c" >-10.0</text>
<text x="1889" y="1149.9" font-family="'DejaVu Sans', 'Bitstream Vera Sans', sans-serif" font-size="16.2" text-anchor="middle" font-weight="normal" fill="#1c1c1c" >Start</text>
<text x="2035.8" y="1149.9" font-family="'DejaVu Sans', 'Bitstream Vera Sans', sans-serif" font-size="16.2" text-anchor="middle" font-weight="normal" fill="#1c1c1c" >End</text>
<text x="2181.5" y="1149.9" font-family="'DejaVu Sans', 'Bitstream Vera Sans', sans-serif" font-size="16.2" text-anchor="end" font-weight="normal" fill="#1c1c1c" >10.0Kb</text>
<rect x="1894.5" y="1160.8" width="140.4" height="11.7" fill="#000"/>
<text x="1967" y="1194.9" font-family="'Liberation Sans', Arial, Helvetica, sans-serif" font-size="19.5" text-anchor="middle" font-weight="bold" fill="#000" >MCD</text>
<text x="1965.5" y="865.8" font-family="'Liberation Sans', Arial, Helvetica, sans-serif" font-size="23" text-anchor="middle" font-weight="normal" fill="#111" >Histone modifications (myoblast)</text>
<text x="0" y="0" font-family="'Liberation Sans', Arial, Helvetica, sans-serif" font-size="22.8" text-anchor="middle" fill="#111" transform="translate(1691,1015.5) rotate(-90)">Average enrichment</text>
<line x1="1909.3" y1="905.2" x2="1929.2" y2="905.2" stroke="#ee4c4c" stroke-width="3.2"/>
<text x="1942.8" y="909.4" font-family="'DejaVu Sans', 'Bitstream Vera Sans', sans-serif" font-size="13.6" text-anchor="start" font-weight="normal" fill="#383838" >H3K27me3</text>
<line x1="1909.3" y1="924.1" x2="1929.2" y2="924.1" stroke="#3a9e3a" stroke-width="3.2"/>
<text x="1942.8" y="928.3" font-family="'DejaVu Sans', 'Bitstream Vera Sans', sans-serif" font-size="13.6" text-anchor="start" font-weight="normal" fill="#383838" >H3ac</text>
<line x1="1909.3" y1="943" x2="1929.2" y2="943" stroke="#5aaaf5" stroke-width="3.2"/>
<text x="1942.8" y="947.2" font-family="'DejaVu Sans', 'Bitstream Vera Sans', sans-serif" font-size="13.6" text-anchor="start" font-weight="normal" fill="#383838" >H3K79me2</text>
<line x1="1909.3" y1="962.6" x2="1929.2" y2="962.6" stroke="#b9df6e" stroke-width="3.2"/>
<text x="1942.8" y="966.8" font-family="'DejaVu Sans', 'Bitstream Vera Sans', sans-serif" font-size="13.6" text-anchor="start" font-weight="normal" fill="#383838" >H3K36me3</text>
<text x="13.2" y="136.3" font-family="'Liberation Sans', Arial, Helvetica, sans-serif" font-size="35" text-anchor="start" font-weight="bold" fill="#000" >a</text>
<text x="12.8" y="705" font-family="'Liberation Sans', Arial, Helvetica, sans-serif" font-size="35" text-anchor="start" font-weight="bold" fill="#000" >b</text>
<text x="539.5" y="26.8" font-family="'Liberation Sans', Arial, Helvetica, sans-serif" font-size="35" text-anchor="start" font-weight="bold" fill="#000" >c</text>
<text x="539" y="435.8" font-family="'Liberation Sans', Arial, Helvetica, sans-serif" font-size="35" text-anchor="start" font-weight="bold" fill="#000" >d</text>
<text x="538.7" y="861" font-family="'Liberation Sans', Arial, Helvetica, sans-serif" font-size="35" text-anchor="start" font-weight="bold" fill="#000" >e</text>
</svg>
</body></html>
